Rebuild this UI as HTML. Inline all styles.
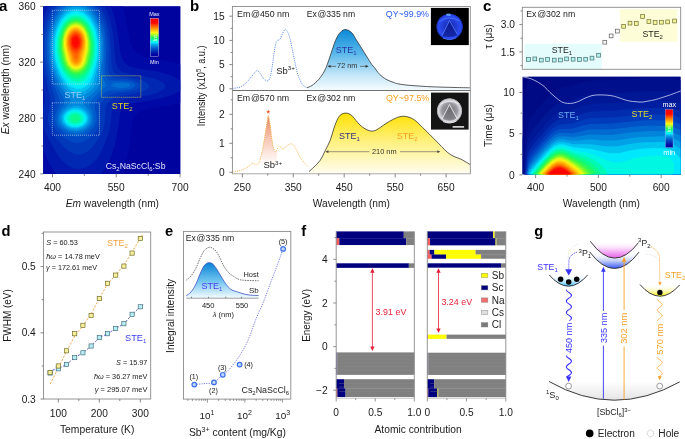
<!DOCTYPE html>
<html><head><meta charset="utf-8"><style>
html,body{margin:0;padding:0;background:#fff;overflow:hidden;}
svg{display:block;font-family:"Liberation Sans", sans-serif;will-change:transform;}
</style></head><body>
<svg width="685" height="439" viewBox="0 0 685 439">
<rect x="0" y="0" width="685" height="439" fill="#fff"/>
<defs>
<filter id="bl1" x="-20%" y="-20%" width="140%" height="140%"><feGaussianBlur stdDeviation="0.7"/></filter>
<clipPath id="clipA"><rect x="43.2" y="6.2" width="137.3" height="167.7"/></clipPath>
<clipPath id="clipC"><rect x="522.3" y="76.6" width="158.4" height="98"/></clipPath>
<linearGradient id="gBlue" x1="0" y1="0" x2="0" y2="1"><stop offset="0" stop-color="#0c8ad8"/><stop offset="0.4" stop-color="#5ab8ea"/><stop offset="0.75" stop-color="#c4e6f8"/><stop offset="1" stop-color="#f4fbff"/></linearGradient>
<linearGradient id="gYel" x1="0" y1="0" x2="0" y2="1"><stop offset="0" stop-color="#ffe000"/><stop offset="0.45" stop-color="#fff07a"/><stop offset="1" stop-color="#fffdf0"/></linearGradient>
<linearGradient id="gSal" x1="0" y1="0" x2="0" y2="1"><stop offset="0" stop-color="#e8845c"/><stop offset="0.4" stop-color="#f5c4b0"/><stop offset="0.7" stop-color="#fcebe4"/><stop offset="0.88" stop-color="#ffffff"/></linearGradient>
<linearGradient id="gBlueE" x1="0" y1="0" x2="0" y2="1"><stop offset="0" stop-color="#0a82d6"/><stop offset="0.5" stop-color="#6cc2ee"/><stop offset="1" stop-color="#f4fbff"/></linearGradient>
<linearGradient id="jet" x1="0" y1="0" x2="0" y2="1"><stop offset="0.000" stop-color="rgb(245,0,0)"/><stop offset="0.125" stop-color="rgb(255,10,0)"/><stop offset="0.180" stop-color="rgb(255,70,0)"/><stop offset="0.250" stop-color="rgb(255,135,0)"/><stop offset="0.300" stop-color="rgb(255,180,10)"/><stop offset="0.375" stop-color="rgb(255,245,20)"/><stop offset="0.400" stop-color="rgb(220,250,20)"/><stop offset="0.440" stop-color="rgb(140,250,35)"/><stop offset="0.500" stop-color="rgb(40,248,80)"/><stop offset="0.560" stop-color="rgb(0,252,160)"/><stop offset="0.625" stop-color="rgb(0,245,255)"/><stop offset="0.690" stop-color="rgb(0,166,232)"/><stop offset="0.750" stop-color="rgb(0,115,212)"/><stop offset="0.810" stop-color="rgb(0,75,196)"/><stop offset="0.875" stop-color="rgb(0,40,178)"/><stop offset="0.940" stop-color="rgb(0,6,166)"/><stop offset="1.000" stop-color="rgb(0,0,148)"/></linearGradient>
<linearGradient id="gMag" x1="0" y1="0" x2="0" y2="1"><stop offset="0" stop-color="#ffffff" stop-opacity="0"/><stop offset="0.5" stop-color="#f8c8f8"/><stop offset="1" stop-color="#e660e6"/></linearGradient>
<linearGradient id="gBlu2" x1="0" y1="0" x2="0" y2="1"><stop offset="0" stop-color="#ffffff" stop-opacity="0"/><stop offset="0.55" stop-color="#c0ccf8"/><stop offset="1" stop-color="#3858f0"/></linearGradient>
<linearGradient id="gCy" x1="0" y1="0" x2="0" y2="1"><stop offset="0" stop-color="#ffffff" stop-opacity="0"/><stop offset="1" stop-color="#38b8f0"/></linearGradient>
<linearGradient id="gYe2" x1="0" y1="0" x2="0" y2="1"><stop offset="0" stop-color="#ffffff" stop-opacity="0"/><stop offset="1" stop-color="#f4ec10"/></linearGradient>
<linearGradient id="gGr" x1="0" y1="0" x2="0" y2="1"><stop offset="0" stop-color="#ffffff"/><stop offset="1" stop-color="#e4e4e4"/></linearGradient>
<radialGradient id="photo1" cx="0.5" cy="0.5" r="0.5"><stop offset="0" stop-color="#1422a0"/><stop offset="0.55" stop-color="#2440d8"/><stop offset="0.85" stop-color="#2c4cf4"/><stop offset="0.95" stop-color="#1a30b0"/><stop offset="1" stop-color="#000010"/></radialGradient>
<radialGradient id="photo2" cx="0.5" cy="0.5" r="0.5"><stop offset="0" stop-color="#707074"/><stop offset="0.6" stop-color="#9a9aa0"/><stop offset="0.85" stop-color="#dcdce2"/><stop offset="0.95" stop-color="#a0a0a4"/><stop offset="1" stop-color="#202020"/></radialGradient>
</defs>
<text x="-0.90" y="10.50" font-size="15" text-anchor="start" fill="#000" font-weight="bold" >a</text>
<g clip-path="url(#clipA)">
<rect x="43.20" y="6.20" width="137.30" height="167.70" fill="rgb(0,0,150)" stroke="none" stroke-width="0.8" />
<path d="M43.2,6.2 43.2,173.9 180.5,173.9 180.5,6.2Z" fill="rgb(0,3,158)" fill-rule="evenodd"/>
<path d="M43.2,6.2 43.2,173.9 121.3,173.9 124.8,165.8 127.6,156.3 129.6,144.8 132.1,123.8 133.3,119.3 135.3,115.6 138.6,112.6 144.8,109.8 152.6,108.1 168.6,105.6 180.5,102.8 180.5,64.8 169.1,61.6 145.3,56.8 139.3,54.3 134.8,50.8 132.6,47.8 130.1,41.8 126.3,20.3 123.1,6.2Z" fill="rgb(0,8,166)" fill-rule="evenodd"/>
<path d="M43.2,6.2 43.2,149.6 49.3,163.8 53.3,170.1 56.6,173.9 100.8,173.9 107.1,165.6 111.8,155.3 115.1,143.6 117.6,131.8 119.8,115.1 121.1,111.1 122.6,108.8 126.3,105.8 132.1,103.6 160.8,98.6 173.6,94.6 178.3,91.8 180.5,89.8 180.5,81.6 175.3,77.6 170.1,75.1 157.6,71.6 133.3,67.6 128.3,65.6 124.1,61.8 122.1,58.3 120.3,52.3 116.3,24.6 113.6,13.8 110.8,6.2Z" fill="rgb(0,24,172)" fill-rule="evenodd"/>
<path d="M48.3,6.2 46.1,10.8 43.2,18.6 43.2,87.6 44.8,97.3 44.6,102.8 43.2,109.1 43.2,126.3 44.8,131.1 48.6,139.1 56.6,153.3 61.6,160.3 66.8,165.1 72.1,167.8 76.3,168.8 82.6,168.6 86.6,167.3 92.3,163.8 97.1,158.8 100.6,153.3 105.3,142.6 109.3,130.8 110.8,123.8 111.8,110.8 114.1,105.6 118.3,102.1 124.8,99.6 148.6,95.3 157.6,92.8 163.6,89.6 165.1,87.6 165.3,85.8 163.1,82.6 156.6,79.3 145.6,76.6 125.1,73.1 121.6,71.6 118.8,69.3 116.8,65.8 115.3,59.3 113.8,40.1 112.1,28.3 109.3,17.6 104.8,6.2Z" fill="rgb(0,40,178)" fill-rule="evenodd"/>
<path d="M52.6,6.2 47.3,17.1 45.1,24.1 43.2,32.1 43.2,66.3 50.3,98.6 50.1,104.8 47.8,116.6 48.1,121.8 49.6,127.3 51.3,131.1 54.8,136.6 60.1,143.1 66.1,149.1 70.6,152.3 75.3,154.3 80.6,154.6 84.1,153.6 88.6,150.8 94.1,145.1 99.6,136.8 102.6,130.6 104.6,123.8 105.3,108.8 106.1,105.8 107.8,102.8 113.1,98.6 118.8,96.3 137.1,93.1 144.3,90.8 148.6,88.1 149.1,87.3 149.1,85.3 145.8,82.3 140.1,79.8 132.8,78.1 122.8,76.8 117.6,75.6 115.8,74.6 113.3,71.8 111.6,65.1 110.8,43.6 109.1,30.3 105.3,16.8 100.3,6.2Z" fill="rgb(0,56,186)" fill-rule="evenodd"/>
<path d="M56.3,6.2 51.3,14.6 47.8,23.8 45.6,33.6 44.6,42.1 44.6,55.1 46.3,68.1 48.8,78.6 53.6,93.1 55.1,99.3 55.1,104.3 52.1,115.6 52.1,120.8 53.3,125.3 56.1,130.1 62.8,136.8 68.1,140.3 71.3,141.8 75.1,142.8 80.3,142.8 83.8,141.8 89.3,138.6 94.3,133.6 97.3,129.1 98.8,125.8 100.1,120.8 100.1,105.3 102.1,101.3 104.8,98.3 109.1,95.3 113.3,93.6 128.1,91.8 136.1,89.8 140.1,87.1 140.3,84.8 138.1,82.6 133.3,80.6 126.8,79.3 115.1,78.3 111.8,77.1 110.1,75.3 108.8,72.3 108.3,69.3 108.6,50.8 108.1,41.6 106.8,32.3 105.1,24.8 102.1,16.3 99.1,10.3 96.3,6.2Z" fill="rgb(0,72,194)" fill-rule="evenodd"/>
<path d="M59.8,6.2 55.6,11.8 50.8,21.8 48.3,30.6 46.6,43.1 46.8,56.6 48.8,68.8 53.3,83.8 58.3,95.6 59.8,101.1 59.6,104.3 55.3,114.8 55.1,120.8 55.8,123.6 58.1,127.6 63.6,132.6 67.8,134.8 74.8,136.6 80.1,136.3 84.3,135.1 88.8,132.6 92.3,129.3 94.3,126.6 95.8,123.3 96.6,119.8 96.3,114.3 94.8,108.6 94.8,104.3 96.8,100.3 101.6,95.3 106.3,91.8 109.8,90.6 122.1,90.3 130.6,89.1 133.8,87.6 135.1,86.3 135.1,84.8 133.8,83.3 129.6,81.6 125.1,80.8 111.3,80.6 109.1,79.8 107.1,78.1 105.8,75.3 105.3,71.3 106.3,48.6 104.8,33.6 103.1,26.1 100.3,18.3 97.8,13.3 92.8,6.2Z" fill="rgb(0,91,202)" fill-rule="evenodd"/>
<path d="M110.8,85.1 111.3,86.1 112.8,86.8 120.6,88.3 127.6,87.6 130.3,85.8 130.3,84.8 129.3,83.8 125.1,82.6 116.8,82.8 112.3,84.1ZM63.3,6.2 59.1,10.8 55.8,15.8 53.1,21.6 50.8,28.3 49.3,35.1 48.3,44.6 48.8,57.8 50.3,66.3 54.1,78.8 57.1,86.1 63.8,98.6 64.6,101.3 64.1,104.1 59.8,110.3 57.6,115.3 57.3,120.6 58.1,123.1 59.6,125.8 61.8,128.3 66.8,131.6 72.8,133.3 79.1,133.3 83.6,132.1 88.3,129.3 92.1,125.1 93.6,121.6 93.8,116.3 92.8,112.6 89.8,105.8 89.6,104.1 90.1,102.1 92.6,98.6 106.8,85.3 103.6,80.1 102.6,74.8 104.3,54.6 103.8,39.8 101.6,28.1 98.3,19.1 94.3,12.1 89.3,6.2Z" fill="rgb(0,111,210)" fill-rule="evenodd"/>
<path d="M85.1,6.2 67.6,6.2 64.6,8.3 61.1,11.8 56.8,18.1 54.1,24.1 51.6,32.6 50.1,43.3 50.1,52.8 50.8,59.6 52.6,67.8 55.1,75.6 61.1,88.1 69.1,98.3 70.6,101.1 69.8,103.3 62.8,109.8 60.8,112.6 59.6,115.3 59.1,118.1 59.6,121.8 61.3,125.1 65.6,128.8 69.3,130.6 75.1,131.6 81.1,130.8 85.6,128.8 89.1,125.8 90.8,123.1 91.8,119.1 91.1,114.3 88.6,109.8 83.8,104.1 83.6,101.6 86.6,98.3 92.3,93.8 97.1,89.1 99.1,86.1 99.8,83.8 100.1,73.1 102.3,57.6 102.3,41.8 100.8,32.3 99.1,26.1 95.3,17.6 92.6,13.3 87.6,8.1Z" fill="rgb(0,136,220)" fill-rule="evenodd"/>
<path d="M74.3,105.6 67.8,108.1 63.1,112.3 61.1,116.3 60.8,119.6 62.6,124.1 66.8,127.8 71.3,129.6 78.3,129.8 84.1,127.8 87.8,124.6 89.6,121.3 89.8,116.8 88.1,112.6 83.6,108.1 78.8,105.8ZM73.8,6.6 70.3,7.6 65.1,10.8 60.3,16.1 56.8,22.1 54.1,29.3 52.3,37.1 51.6,44.3 51.6,51.6 52.8,61.6 54.3,67.6 57.8,77.1 61.3,83.8 65.3,89.3 69.8,93.6 75.3,96.3 79.3,96.6 83.6,95.3 89.1,92.1 93.3,88.1 95.3,85.1 96.6,81.3 100.3,60.1 100.8,55.3 100.8,43.1 99.8,35.6 98.3,29.3 95.6,22.1 92.1,16.1 87.3,10.8 84.6,8.8 79.8,6.8Z" fill="rgb(0,161,230)" fill-rule="evenodd"/>
<path d="M67.8,110.1 64.3,113.3 62.6,117.1 63.1,121.8 66.3,125.8 71.1,128.1 77.1,128.6 82.8,126.8 86.6,123.6 88.1,120.3 88.1,116.8 86.3,113.1 83.8,110.6 80.8,108.8 77.1,107.8 72.8,108.1ZM73.8,9.1 68.1,11.3 64.8,13.8 60.8,18.6 57.3,25.1 55.1,31.6 53.6,38.8 53.1,51.6 54.1,59.8 55.6,66.1 58.3,73.6 63.6,83.1 68.8,88.8 71.3,90.6 76.1,92.3 80.3,92.3 84.3,91.1 88.6,88.3 91.3,85.3 93.6,81.1 97.3,67.1 98.8,59.1 99.3,43.3 98.6,37.3 96.6,29.1 94.8,24.6 90.8,17.6 84.3,11.3 78.6,9.1Z" fill="rgb(0,196,240)" fill-rule="evenodd"/>
<path d="M67.3,112.3 64.8,115.3 64.1,117.6 64.1,119.8 65.6,123.1 68.1,125.3 72.3,127.1 78.3,127.1 82.6,125.3 85.6,122.3 86.6,119.3 86.3,116.6 85.1,114.1 82.1,111.3 78.6,109.8 73.6,109.6 70.8,110.3ZM74.6,11.3 70.8,12.3 66.1,15.3 62.1,19.8 58.6,26.1 56.3,32.6 55.1,38.6 54.6,52.3 55.8,60.8 57.8,67.8 61.3,75.6 64.3,80.3 68.3,84.8 71.3,87.1 75.8,88.8 80.3,88.8 82.8,88.1 86.3,86.1 89.6,82.6 92.3,77.1 95.3,67.8 97.3,58.6 97.8,54.3 97.8,42.8 95.6,31.1 93.8,26.3 90.1,19.6 85.3,14.6 82.6,12.8 77.8,11.3Z" fill="rgb(0,232,251)" fill-rule="evenodd"/>
<path d="M67.1,114.8 65.8,117.6 66.3,121.3 68.8,124.1 72.1,125.6 77.6,125.8 80.1,125.1 81.8,124.1 84.6,120.6 84.8,117.8 83.6,114.8 81.1,112.6 78.1,111.3 72.6,111.3 69.6,112.6ZM74.3,13.6 70.8,14.6 66.3,17.6 62.3,22.3 59.3,28.1 57.6,33.3 56.3,39.6 55.8,44.8 56.1,53.3 57.3,60.8 59.3,67.3 62.6,74.1 65.1,77.8 69.3,82.3 72.3,84.3 76.1,85.6 79.8,85.6 84.1,83.8 87.3,80.8 91.8,72.6 95.6,59.8 96.6,51.3 96.6,45.3 95.8,38.3 94.6,32.8 92.8,27.8 89.6,21.8 85.3,17.1 82.8,15.3 78.1,13.6Z" fill="rgb(0,247,225)" fill-rule="evenodd"/>
<path d="M70.3,114.1 67.8,117.3 67.8,120.1 68.8,121.8 70.6,123.3 73.3,124.3 77.3,124.3 80.3,123.1 82.1,121.3 82.8,119.6 82.8,117.6 80.3,114.1 78.3,113.1 75.6,112.6 72.3,113.1ZM74.6,15.6 71.1,16.6 67.8,18.6 63.8,22.8 61.1,27.6 59.3,32.1 57.8,38.3 57.3,42.3 57.3,51.8 59.3,62.6 61.6,68.6 66.1,75.8 71.3,80.6 75.6,82.3 79.3,82.3 83.1,80.8 86.3,77.8 90.8,70.1 93.3,62.8 94.6,56.8 95.1,43.6 93.3,33.6 91.3,28.1 88.8,23.6 84.3,18.6 82.1,17.1 78.8,15.8Z" fill="rgb(0,250,181)" fill-rule="evenodd"/>
<path d="M70.8,116.8 70.3,118.1 70.8,120.3 73.8,122.3 77.6,122.1 79.8,120.3 80.3,119.1 79.8,116.8 76.8,114.8 73.8,114.8ZM73.8,17.6 70.1,19.1 67.3,21.1 64.3,24.6 61.8,29.1 59.8,34.8 58.8,40.1 58.6,50.8 61.1,63.3 64.8,71.1 66.3,73.1 71.3,77.6 73.8,78.8 78.3,79.3 83.1,77.3 86.8,73.3 89.8,68.1 92.8,58.3 93.8,50.1 93.8,45.1 93.1,38.6 91.8,33.3 90.3,29.3 87.3,24.1 83.8,20.3 81.1,18.6 78.1,17.6Z" fill="rgb(10,251,139)" fill-rule="evenodd"/>
<path d="M75.6,19.1 72.1,19.8 69.3,21.3 66.6,23.8 64.1,27.3 62.1,31.6 60.3,38.1 59.8,41.6 59.8,50.3 62.3,62.6 65.6,69.3 70.3,74.3 74.6,76.3 77.3,76.6 79.8,76.1 83.6,73.8 86.1,71.1 88.8,66.3 90.3,62.3 92.1,54.1 92.3,42.3 90.1,32.1 86.3,25.1 81.8,20.8 79.1,19.6Z" fill="rgb(29,249,100)" fill-rule="evenodd"/>
<path d="M74.1,20.8 69.6,22.8 67.6,24.6 64.8,28.3 61.8,36.1 60.8,43.1 60.8,47.3 62.6,58.6 64.6,64.6 66.3,67.8 68.1,70.1 71.1,72.6 74.8,74.1 78.3,74.1 81.8,72.6 85.1,69.6 88.3,63.6 90.8,52.8 91.1,42.1 89.1,32.8 85.1,25.6 82.8,23.3 80.1,21.6 77.8,20.8Z" fill="rgb(65,248,68)" fill-rule="evenodd"/>
<path d="M75.1,22.1 71.6,23.1 69.3,24.6 66.6,27.6 64.3,31.6 62.1,40.3 62.1,48.8 64.1,59.1 66.8,66.1 71.3,70.8 74.3,72.1 77.1,72.3 79.3,71.8 82.1,70.3 84.3,68.1 86.3,64.8 87.6,61.6 89.3,53.8 90.1,44.6 88.8,35.6 85.8,28.6 84.6,26.8 80.6,23.3 78.1,22.3Z" fill="rgb(115,249,46)" fill-rule="evenodd"/>
<path d="M73.8,23.6 71.3,24.6 68.1,27.3 64.8,32.8 63.1,39.8 63.1,48.1 65.6,59.8 67.8,65.3 71.6,69.3 74.6,70.6 77.8,70.6 81.6,68.8 83.6,66.8 85.8,62.6 88.6,50.3 88.8,41.3 86.8,32.8 83.3,27.1 81.1,25.1 78.6,23.8Z" fill="rgb(170,250,29)" fill-rule="evenodd"/>
<path d="M75.3,24.6 71.1,26.1 67.1,30.3 64.3,37.6 63.8,45.8 66.6,59.1 68.8,64.8 72.3,68.3 74.1,69.1 77.1,69.3 81.1,67.6 83.6,64.6 84.8,61.8 87.6,49.1 87.8,41.1 86.1,33.6 83.6,29.1 80.1,25.8Z" fill="rgb(227,248,20)" fill-rule="evenodd"/>
<path d="M74.6,25.8 71.1,27.3 67.8,30.8 66.3,33.8 64.8,39.6 64.8,46.8 68.1,60.3 69.8,64.3 72.6,67.1 76.8,68.1 80.1,66.8 81.8,65.1 83.6,61.8 86.6,48.6 86.8,40.3 85.3,34.1 82.6,29.3 78.6,26.3Z" fill="rgb(255,236,18)" fill-rule="evenodd"/>
<path d="M74.1,27.1 71.1,28.6 69.3,30.3 67.3,33.6 65.8,38.3 65.6,45.6 69.1,59.8 70.8,63.8 72.8,65.8 74.3,66.6 76.8,66.8 80.1,65.3 82.3,61.8 85.6,48.6 86.1,41.6 84.6,34.6 82.3,30.6 80.3,28.6 78.1,27.3Z" fill="rgb(255,210,14)" fill-rule="evenodd"/>
<path d="M74.8,28.1 71.8,29.3 68.8,32.6 66.8,37.6 66.3,44.8 67.3,49.8 71.1,62.1 73.8,65.1 76.8,65.6 78.3,65.1 80.1,63.6 81.6,60.6 84.8,47.3 85.1,39.8 83.8,35.1 81.6,31.1 78.3,28.6Z" fill="rgb(255,184,10)" fill-rule="evenodd"/>
<path d="M74.3,29.3 72.1,30.3 69.1,33.8 67.6,37.8 67.1,43.8 68.1,49.1 70.8,56.3 71.8,60.8 72.8,62.6 74.3,63.8 77.1,64.1 79.6,62.1 80.6,59.6 81.6,54.1 84.1,46.3 84.3,40.6 83.3,36.1 81.3,32.3 77.8,29.6Z" fill="rgb(255,157,4)" fill-rule="evenodd"/>
<path d="M75.1,30.3 71.8,31.8 69.8,34.3 68.3,38.1 67.8,42.3 68.8,48.3 71.3,53.8 73.1,60.1 74.6,62.1 76.1,62.6 77.8,61.8 78.8,60.3 80.1,54.6 82.6,48.6 83.6,41.8 83.1,38.1 81.1,33.6 78.1,30.8Z" fill="rgb(255,130,0)" fill-rule="evenodd"/>
<path d="M74.8,31.6 72.3,32.8 69.8,36.3 68.8,40.1 68.8,44.3 70.1,48.8 75.1,58.8 76.3,59.3 77.1,58.6 78.6,54.1 82.1,46.8 82.6,40.1 81.8,37.1 80.1,33.8 77.3,31.8Z" fill="rgb(255,102,0)" fill-rule="evenodd"/>
<path d="M75.6,32.8 73.3,33.6 70.6,37.1 69.8,39.6 69.8,44.6 70.8,47.8 72.8,51.1 74.3,52.6 76.3,53.1 77.8,52.1 80.6,47.8 81.6,44.3 81.6,39.8 79.8,35.3 78.1,33.6Z" fill="rgb(255,74,0)" fill-rule="evenodd"/>
<path d="M74.6,34.6 72.3,36.3 71.1,38.8 70.8,44.1 72.6,48.3 74.1,49.8 76.3,50.3 78.6,48.6 80.1,45.8 80.6,40.3 80.1,38.3 78.1,35.3 76.8,34.6Z" fill="rgb(255,42,0)" fill-rule="evenodd"/>
<path d="M74.8,36.6 73.1,38.1 72.3,39.6 72.1,43.3 73.1,46.1 74.6,47.6 75.8,47.8 77.1,47.3 78.6,45.6 79.3,43.1 79.3,40.8 78.3,38.1 77.1,36.8Z" fill="rgb(255,9,0)" fill-rule="evenodd"/>
<path d="M75.3,40.8 74.6,42.3 75.1,43.6 75.8,43.8 76.8,42.1 76.1,40.8Z" fill="rgb(252,7,0)" fill-rule="evenodd"/>
</g>
<rect x="52.30" y="10.30" width="47.10" height="73.70" fill="none" stroke="#d8dcf0" stroke-width="0.7" stroke-dasharray="0.9 1.1"/>
<rect x="52.30" y="102.80" width="47.10" height="32.40" fill="none" stroke="#d8dcf0" stroke-width="0.7" stroke-dasharray="0.9 1.1"/>
<rect x="101.50" y="75.80" width="39.30" height="21.50" fill="none" stroke="#e8dc30" stroke-width="0.8" stroke-dasharray="0.9 1.1"/>
<text x="64.50" y="97.80" font-size="9" text-anchor="start" fill="#9cc8f8" >STE<tspan font-size="6" dy="2">1</tspan></text>
<text x="111.80" y="108.70" font-size="9" text-anchor="start" fill="#e0d428" >STE<tspan font-size="6" dy="2">2</tspan></text>
<rect x="150.20" y="18.30" width="8.40" height="38.30" fill="url(#jet)" stroke="#e0e0ff" stroke-width="0.4" />
<text x="0" y="0" font-size="5.5" text-anchor="middle" fill="#e8ffe8" transform="translate(156.60,37.50) rotate(-90)">Int.</text>
<text x="154.40" y="15.70" font-size="5.5" text-anchor="middle" fill="#f0f0ff" >Max</text>
<text x="154.40" y="63.60" font-size="5.5" text-anchor="middle" fill="#f0f0ff" >Min</text>
<text x="105.70" y="169.00" font-size="8.8" text-anchor="start" fill="#e4e4ff" textLength="59.8" lengthAdjust="spacingAndGlyphs" >Cs<tspan font-size="6" dy="1.8">2</tspan><tspan dy="-1.8">NaScCl</tspan><tspan font-size="6" dy="1.8">6</tspan><tspan dy="-1.8">:Sb</tspan></text>
<line x1="40.20" y1="6.40" x2="43.20" y2="6.40" stroke="#6a6a6a" stroke-width="0.8" />
<line x1="41.40" y1="34.40" x2="43.20" y2="34.40" stroke="#6a6a6a" stroke-width="0.8" />
<line x1="40.20" y1="62.10" x2="43.20" y2="62.10" stroke="#6a6a6a" stroke-width="0.8" />
<line x1="41.40" y1="90.00" x2="43.20" y2="90.00" stroke="#6a6a6a" stroke-width="0.8" />
<line x1="40.20" y1="118.00" x2="43.20" y2="118.00" stroke="#6a6a6a" stroke-width="0.8" />
<line x1="41.40" y1="146.00" x2="43.20" y2="146.00" stroke="#6a6a6a" stroke-width="0.8" />
<line x1="40.20" y1="173.90" x2="43.20" y2="173.90" stroke="#6a6a6a" stroke-width="0.8" />
<text x="35.60" y="10.05" font-size="10.2" text-anchor="end" fill="#1a1a1a" >360</text>
<text x="35.60" y="65.75" font-size="10.2" text-anchor="end" fill="#1a1a1a" >320</text>
<text x="35.60" y="121.65" font-size="10.2" text-anchor="end" fill="#1a1a1a" >280</text>
<text x="35.60" y="177.55" font-size="10.2" text-anchor="end" fill="#1a1a1a" >240</text>
<line x1="52.50" y1="173.90" x2="52.50" y2="177.40" stroke="#6a6a6a" stroke-width="0.8" />
<line x1="84.30" y1="173.90" x2="84.30" y2="175.90" stroke="#6a6a6a" stroke-width="0.8" />
<line x1="116.20" y1="173.90" x2="116.20" y2="177.40" stroke="#6a6a6a" stroke-width="0.8" />
<line x1="148.20" y1="173.90" x2="148.20" y2="175.90" stroke="#6a6a6a" stroke-width="0.8" />
<line x1="180.10" y1="173.90" x2="180.10" y2="177.40" stroke="#6a6a6a" stroke-width="0.8" />
<text x="52.50" y="190.80" font-size="10.2" text-anchor="middle" fill="#1a1a1a" >400</text>
<text x="116.20" y="190.80" font-size="10.2" text-anchor="middle" fill="#1a1a1a" >550</text>
<text x="180.10" y="190.80" font-size="10.2" text-anchor="middle" fill="#1a1a1a" >700</text>
<text x="112.40" y="206.70" font-size="10.2" text-anchor="middle" fill="#1a1a1a" textLength="93.2" lengthAdjust="spacingAndGlyphs" ><tspan font-style="italic">Em</tspan> wavelength (nm)</text>
<text x="0" y="0" font-size="10.2" text-anchor="middle" fill="#1a1a1a" textLength="89.5" lengthAdjust="spacingAndGlyphs" transform="translate(8.50,89.50) rotate(-90)"><tspan font-style="italic">Ex</tspan> wavelength (nm)</text>
<text x="190.10" y="10.60" font-size="15" text-anchor="start" fill="#000" font-weight="bold" >b</text>
<path d="M232.50,88.40 C233.08,88.33 234.58,88.27 236.00,88.00 C237.42,87.73 239.33,87.63 241.00,86.80 C242.67,85.97 244.50,84.37 246.00,83.00 C247.50,81.63 248.67,80.18 250.00,78.60 C251.33,77.02 252.83,74.83 254.00,73.50 C255.17,72.17 256.08,70.77 257.00,70.60 C257.92,70.43 258.67,71.52 259.50,72.50 C260.33,73.48 261.08,75.28 262.00,76.50 C262.92,77.72 264.00,79.07 265.00,79.80 C266.00,80.53 267.08,81.53 268.00,80.90 C268.92,80.27 269.73,78.82 270.50,76.00 C271.27,73.18 271.98,68.00 272.60,64.00 C273.22,60.00 273.60,55.62 274.20,52.00 C274.80,48.38 275.57,44.27 276.20,42.30 C276.83,40.33 277.37,40.70 278.00,40.20 C278.63,39.70 279.25,40.42 280.00,39.30 C280.75,38.18 281.63,35.18 282.50,33.50 C283.37,31.82 284.32,29.37 285.20,29.20 C286.08,29.03 287.00,30.92 287.80,32.50 C288.60,34.08 289.07,35.00 290.00,38.70 C290.93,42.40 292.40,49.98 293.40,54.70 C294.40,59.42 295.23,63.58 296.00,67.00 C296.77,70.42 297.25,72.87 298.00,75.20 C298.75,77.53 299.75,79.42 300.50,81.00 C301.25,82.58 301.75,83.73 302.50,84.70 C303.25,85.67 304.25,86.30 305.00,86.80 C305.75,87.30 306.67,87.55 307.00,87.70" fill="none" stroke="#5080f0" stroke-width="0.9" stroke-dasharray="1.1 1.1"/>
<path d="M307.00,87.70 C307.83,87.33 310.08,86.83 312.00,85.50 C313.92,84.17 316.67,81.70 318.50,79.70 C320.33,77.70 321.80,75.37 323.00,73.50 C324.20,71.63 324.78,70.58 325.70,68.50 C326.62,66.42 327.62,63.50 328.50,61.00 C329.38,58.50 330.17,56.00 331.00,53.50 C331.83,51.00 332.75,48.17 333.50,46.00 C334.25,43.83 334.75,42.25 335.50,40.50 C336.25,38.75 337.17,36.88 338.00,35.50 C338.83,34.12 339.67,33.08 340.50,32.20 C341.33,31.32 342.25,30.63 343.00,30.20 C343.75,29.77 344.25,29.63 345.00,29.60 C345.75,29.57 346.67,29.72 347.50,30.00 C348.33,30.28 349.12,30.63 350.00,31.30 C350.88,31.97 351.73,32.55 352.80,34.00 C353.87,35.45 355.12,37.92 356.40,40.00 C357.68,42.08 359.20,44.43 360.50,46.50 C361.80,48.57 362.95,50.40 364.20,52.40 C365.45,54.40 366.78,56.53 368.00,58.50 C369.22,60.47 370.40,62.67 371.50,64.20 C372.60,65.73 373.52,66.32 374.60,67.70 C375.68,69.08 376.77,71.03 378.00,72.50 C379.23,73.97 380.50,75.28 382.00,76.50 C383.50,77.72 385.17,78.85 387.00,79.80 C388.83,80.75 391.10,81.52 393.00,82.20 C394.90,82.88 395.57,83.37 398.40,83.90 C401.23,84.43 406.20,85.02 410.00,85.40 C413.80,85.78 417.53,85.97 421.20,86.20 C424.87,86.43 428.20,86.63 432.00,86.80 C435.80,86.97 440.00,87.08 444.00,87.20 C448.00,87.32 451.70,87.40 456.00,87.50 C460.30,87.60 467.50,87.75 469.80,87.80 L469.8,90 L307,90 Z" fill="url(#gBlue)" stroke="none"/>
<path d="M307.00,87.70 C307.83,87.33 310.08,86.83 312.00,85.50 C313.92,84.17 316.67,81.70 318.50,79.70 C320.33,77.70 321.80,75.37 323.00,73.50 C324.20,71.63 324.78,70.58 325.70,68.50 C326.62,66.42 327.62,63.50 328.50,61.00 C329.38,58.50 330.17,56.00 331.00,53.50 C331.83,51.00 332.75,48.17 333.50,46.00 C334.25,43.83 334.75,42.25 335.50,40.50 C336.25,38.75 337.17,36.88 338.00,35.50 C338.83,34.12 339.67,33.08 340.50,32.20 C341.33,31.32 342.25,30.63 343.00,30.20 C343.75,29.77 344.25,29.63 345.00,29.60 C345.75,29.57 346.67,29.72 347.50,30.00 C348.33,30.28 349.12,30.63 350.00,31.30 C350.88,31.97 351.73,32.55 352.80,34.00 C353.87,35.45 355.12,37.92 356.40,40.00 C357.68,42.08 359.20,44.43 360.50,46.50 C361.80,48.57 362.95,50.40 364.20,52.40 C365.45,54.40 366.78,56.53 368.00,58.50 C369.22,60.47 370.40,62.67 371.50,64.20 C372.60,65.73 373.52,66.32 374.60,67.70 C375.68,69.08 376.77,71.03 378.00,72.50 C379.23,73.97 380.50,75.28 382.00,76.50 C383.50,77.72 385.17,78.85 387.00,79.80 C388.83,80.75 391.10,81.52 393.00,82.20 C394.90,82.88 395.57,83.37 398.40,83.90 C401.23,84.43 406.20,85.02 410.00,85.40 C413.80,85.78 417.53,85.97 421.20,86.20 C424.87,86.43 428.20,86.63 432.00,86.80 C435.80,86.97 440.00,87.08 444.00,87.20 C448.00,87.32 451.70,87.40 456.00,87.50 C460.30,87.60 467.50,87.75 469.80,87.80" fill="none" stroke="#2a2a2a" stroke-width="0.75"/>
<path d="M260.5,172 L260.5,158 L262.2,151.2 L264.2,140 L266.2,127 L268.3,115.2 L270.2,125 L271.8,138 L273.2,147 L274.8,151.5 L276.8,150 L276.8,172 Z" fill="url(#gSal)"/>
<path d="M232.60,172.00 C233.33,171.88 235.33,171.68 237.00,171.30 C238.67,170.92 240.93,170.33 242.60,169.70 C244.27,169.07 245.75,168.25 247.00,167.50 C248.25,166.75 249.17,165.92 250.10,165.20 C251.03,164.48 251.87,163.40 252.60,163.20 C253.33,163.00 253.82,163.77 254.50,164.00 C255.18,164.23 255.95,164.85 256.70,164.60 C257.45,164.35 258.37,163.60 259.00,162.50 C259.63,161.40 259.97,159.88 260.50,158.00 C261.03,156.12 261.58,154.20 262.20,151.20 C262.82,148.20 263.53,144.03 264.20,140.00 C264.87,135.97 265.52,131.13 266.20,127.00 C266.88,122.87 267.63,115.53 268.30,115.20 C268.97,114.87 269.62,121.20 270.20,125.00 C270.78,128.80 271.30,134.33 271.80,138.00 C272.30,141.67 272.70,144.75 273.20,147.00 C273.70,149.25 274.20,151.00 274.80,151.50 C275.40,152.00 276.12,150.85 276.80,150.00 C277.48,149.15 278.20,146.85 278.90,146.40 C279.60,145.95 280.28,146.80 281.00,147.30 C281.72,147.80 282.53,149.37 283.20,149.40 C283.87,149.43 284.45,148.00 285.00,147.50 C285.55,147.00 285.83,146.90 286.50,146.40 C287.17,145.90 288.17,144.92 289.00,144.50 C289.83,144.08 290.75,143.82 291.50,143.90 C292.25,143.98 292.88,144.38 293.50,145.00 C294.12,145.62 294.48,146.35 295.20,147.60 C295.92,148.85 296.95,150.82 297.80,152.50 C298.65,154.18 299.27,156.03 300.30,157.70 C301.33,159.37 302.75,161.05 304.00,162.50 C305.25,163.95 307.17,165.75 307.80,166.40" fill="none" stroke="#f5b040" stroke-width="0.9" stroke-dasharray="1.1 1.1"/>
<path d="M268.3,109.6 L268.9,111.2 L270.4,111.2 L269.2,112.2 L269.6,113.7 L268.3,112.8 L267,113.7 L267.4,112.2 L266.2,111.2 L267.7,111.2 Z" fill="#f05a28"/>
<path d="M309.00,171.50 C309.83,170.75 312.12,168.88 314.00,167.00 C315.88,165.12 318.47,162.87 320.30,160.20 C322.13,157.53 323.33,154.35 325.00,151.00 C326.67,147.65 328.80,143.93 330.30,140.10 C331.80,136.27 332.75,131.58 334.00,128.00 C335.25,124.42 336.63,120.85 337.80,118.60 C338.97,116.35 339.77,115.42 341.00,114.50 C342.23,113.58 343.87,113.22 345.20,113.10 C346.53,112.98 347.77,113.27 349.00,113.80 C350.23,114.33 351.43,115.18 352.60,116.30 C353.77,117.42 354.75,119.03 356.00,120.50 C357.25,121.97 358.60,123.72 360.10,125.10 C361.60,126.48 363.52,127.88 365.00,128.80 C366.48,129.72 367.78,130.22 369.00,130.60 C370.22,130.98 371.13,131.17 372.30,131.10 C373.47,131.03 374.70,130.78 376.00,130.20 C377.30,129.62 378.43,128.72 380.10,127.60 C381.77,126.48 383.90,124.83 386.00,123.50 C388.10,122.17 390.78,120.62 392.70,119.60 C394.62,118.58 395.83,117.95 397.50,117.40 C399.17,116.85 401.03,116.40 402.70,116.30 C404.37,116.20 405.83,116.38 407.50,116.80 C409.17,117.22 411.03,117.85 412.70,118.80 C414.37,119.75 415.83,121.03 417.50,122.50 C419.17,123.97 420.78,125.72 422.70,127.60 C424.62,129.48 426.90,131.72 429.00,133.80 C431.10,135.88 433.22,138.00 435.30,140.10 C437.38,142.20 439.42,144.30 441.50,146.40 C443.58,148.50 445.72,151.02 447.80,152.70 C449.88,154.38 451.92,155.47 454.00,156.50 C456.08,157.53 458.47,158.07 460.30,158.90 C462.13,159.73 463.38,160.57 465.00,161.50 C466.62,162.43 469.17,164.00 470.00,164.50 L470,173.5 L309,173.5 Z" fill="url(#gYel)" stroke="none"/>
<path d="M309.00,171.50 C309.83,170.75 312.12,168.88 314.00,167.00 C315.88,165.12 318.47,162.87 320.30,160.20 C322.13,157.53 323.33,154.35 325.00,151.00 C326.67,147.65 328.80,143.93 330.30,140.10 C331.80,136.27 332.75,131.58 334.00,128.00 C335.25,124.42 336.63,120.85 337.80,118.60 C338.97,116.35 339.77,115.42 341.00,114.50 C342.23,113.58 343.87,113.22 345.20,113.10 C346.53,112.98 347.77,113.27 349.00,113.80 C350.23,114.33 351.43,115.18 352.60,116.30 C353.77,117.42 354.75,119.03 356.00,120.50 C357.25,121.97 358.60,123.72 360.10,125.10 C361.60,126.48 363.52,127.88 365.00,128.80 C366.48,129.72 367.78,130.22 369.00,130.60 C370.22,130.98 371.13,131.17 372.30,131.10 C373.47,131.03 374.70,130.78 376.00,130.20 C377.30,129.62 378.43,128.72 380.10,127.60 C381.77,126.48 383.90,124.83 386.00,123.50 C388.10,122.17 390.78,120.62 392.70,119.60 C394.62,118.58 395.83,117.95 397.50,117.40 C399.17,116.85 401.03,116.40 402.70,116.30 C404.37,116.20 405.83,116.38 407.50,116.80 C409.17,117.22 411.03,117.85 412.70,118.80 C414.37,119.75 415.83,121.03 417.50,122.50 C419.17,123.97 420.78,125.72 422.70,127.60 C424.62,129.48 426.90,131.72 429.00,133.80 C431.10,135.88 433.22,138.00 435.30,140.10 C437.38,142.20 439.42,144.30 441.50,146.40 C443.58,148.50 445.72,151.02 447.80,152.70 C449.88,154.38 451.92,155.47 454.00,156.50 C456.08,157.53 458.47,158.07 460.30,158.90 C462.13,159.73 463.38,160.57 465.00,161.50 C466.62,162.43 469.17,164.00 470.00,164.50" fill="none" stroke="#2a2a2a" stroke-width="0.75"/>
<rect x="232.40" y="6.50" width="237.90" height="167.20" fill="none" stroke="#8a8a8a" stroke-width="0.9" />
<line x1="232.40" y1="90.50" x2="470.30" y2="90.50" stroke="#707070" stroke-width="1.0" />
<line x1="232.40" y1="173.70" x2="470.30" y2="173.70" stroke="#c8c8c8" stroke-width="1.0" />
<line x1="229.40" y1="88.80" x2="232.40" y2="88.80" stroke="#6a6a6a" stroke-width="0.8" />
<line x1="230.60" y1="76.70" x2="232.40" y2="76.70" stroke="#6a6a6a" stroke-width="0.8" />
<line x1="229.40" y1="64.60" x2="232.40" y2="64.60" stroke="#6a6a6a" stroke-width="0.8" />
<line x1="230.60" y1="52.50" x2="232.40" y2="52.50" stroke="#6a6a6a" stroke-width="0.8" />
<line x1="229.40" y1="40.40" x2="232.40" y2="40.40" stroke="#6a6a6a" stroke-width="0.8" />
<line x1="230.60" y1="28.30" x2="232.40" y2="28.30" stroke="#6a6a6a" stroke-width="0.8" />
<line x1="229.40" y1="16.20" x2="232.40" y2="16.20" stroke="#6a6a6a" stroke-width="0.8" />
<text x="224.60" y="92.45" font-size="10.2" text-anchor="end" fill="#1a1a1a" >0</text>
<text x="224.60" y="68.25" font-size="10.2" text-anchor="end" fill="#1a1a1a" >5</text>
<text x="224.60" y="44.05" font-size="10.2" text-anchor="end" fill="#1a1a1a" >10</text>
<text x="224.60" y="19.85" font-size="10.2" text-anchor="end" fill="#1a1a1a" >15</text>
<line x1="229.40" y1="172.30" x2="232.40" y2="172.30" stroke="#6a6a6a" stroke-width="0.8" />
<line x1="230.60" y1="157.80" x2="232.40" y2="157.80" stroke="#6a6a6a" stroke-width="0.8" />
<line x1="229.40" y1="143.30" x2="232.40" y2="143.30" stroke="#6a6a6a" stroke-width="0.8" />
<line x1="230.60" y1="128.80" x2="232.40" y2="128.80" stroke="#6a6a6a" stroke-width="0.8" />
<line x1="229.40" y1="114.30" x2="232.40" y2="114.30" stroke="#6a6a6a" stroke-width="0.8" />
<line x1="230.60" y1="99.80" x2="232.40" y2="99.80" stroke="#6a6a6a" stroke-width="0.8" />
<text x="224.60" y="175.95" font-size="10.2" text-anchor="end" fill="#1a1a1a" >0</text>
<text x="224.60" y="146.95" font-size="10.2" text-anchor="end" fill="#1a1a1a" >1</text>
<text x="224.60" y="117.95" font-size="10.2" text-anchor="end" fill="#1a1a1a" >2</text>
<line x1="242.30" y1="173.70" x2="242.30" y2="177.50" stroke="#6a6a6a" stroke-width="0.8" />
<line x1="267.78" y1="173.70" x2="267.78" y2="175.70" stroke="#6a6a6a" stroke-width="0.8" />
<line x1="293.25" y1="173.70" x2="293.25" y2="177.50" stroke="#6a6a6a" stroke-width="0.8" />
<line x1="318.73" y1="173.70" x2="318.73" y2="175.70" stroke="#6a6a6a" stroke-width="0.8" />
<line x1="344.20" y1="173.70" x2="344.20" y2="177.50" stroke="#6a6a6a" stroke-width="0.8" />
<line x1="369.68" y1="173.70" x2="369.68" y2="175.70" stroke="#6a6a6a" stroke-width="0.8" />
<line x1="395.15" y1="173.70" x2="395.15" y2="177.50" stroke="#6a6a6a" stroke-width="0.8" />
<line x1="420.62" y1="173.70" x2="420.62" y2="175.70" stroke="#6a6a6a" stroke-width="0.8" />
<line x1="446.10" y1="173.70" x2="446.10" y2="177.50" stroke="#6a6a6a" stroke-width="0.8" />
<text x="242.30" y="191.20" font-size="10.2" text-anchor="middle" fill="#1a1a1a" >250</text>
<text x="293.25" y="191.20" font-size="10.2" text-anchor="middle" fill="#1a1a1a" >350</text>
<text x="344.20" y="191.20" font-size="10.2" text-anchor="middle" fill="#1a1a1a" >450</text>
<text x="395.15" y="191.20" font-size="10.2" text-anchor="middle" fill="#1a1a1a" >550</text>
<text x="446.10" y="191.20" font-size="10.2" text-anchor="middle" fill="#1a1a1a" >650</text>
<text x="351.30" y="206.50" font-size="10.2" text-anchor="middle" fill="#1a1a1a" textLength="77.1" lengthAdjust="spacingAndGlyphs" >Wavelength (nm)</text>
<text x="0" y="0" font-size="10.2" text-anchor="middle" fill="#1a1a1a" textLength="80.7" lengthAdjust="spacingAndGlyphs" transform="translate(204.60,85.90) rotate(-90)">Intensity (x10<tspan font-size="6.5" dy="-3.8">5</tspan><tspan dy="3.8">, a.u.)</tspan></text>
<text x="237.00" y="17.05" font-size="8.4" text-anchor="start" fill="#222" textLength="52.4" lengthAdjust="spacingAndGlyphs" >Em<tspan dx="0.7">@450 nm</tspan></text>
<text x="306.70" y="17.05" font-size="8.4" text-anchor="start" fill="#222" textLength="48.4" lengthAdjust="spacingAndGlyphs" >Ex<tspan dx="0.7">@335 nm</tspan></text>
<text x="385.80" y="17.10" font-size="8.4" text-anchor="start" fill="#2a5cf0" textLength="43.2" lengthAdjust="spacingAndGlyphs" >QY~99.9%</text>
<text x="276.20" y="73.70" font-size="9.5" text-anchor="start" fill="#222" >Sb<tspan font-size="6.2" dy="-3.4">3+</tspan></text>
<text x="335.80" y="53.00" font-size="9" text-anchor="start" fill="#2838a8" >STE<tspan font-size="6" dy="2.2">1</tspan></text>
<path d="M328.5,66.3 L336,66.3 M360,66.3 L367.8,66.3" stroke="#333" stroke-width="0.6"/>
<path d="M327.6,66.3 l3,-1.4 l0,2.8 Z M368.6,66.3 l-3,-1.4 l0,2.8 Z" fill="#333"/>
<text x="337.10" y="68.10" font-size="7.2" text-anchor="start" fill="#333" textLength="20.2" lengthAdjust="spacingAndGlyphs" >72 nm</text>
<rect x="430.90" y="7.90" width="37.90" height="37.20" fill="#000" stroke="none" stroke-width="0.8" />
<ellipse cx="449.6" cy="26.8" rx="13.6" ry="13.4" fill="url(#photo1)" filter="url(#bl1)"/>
<path d="M442.5,36 Q448,22 450,21 Q452,22 457.5,35 Q450,38.5 442.5,36 Z" fill="#0e1c90" opacity="0.75" filter="url(#bl1)"/>
<path d="M439.5,21.5 Q449,14.5 459.5,21 M442,35.5 L449.5,20.5 L457.5,34.5 M443,38 Q450,41 456.5,37.5" stroke="#4e74ff" stroke-width="1" fill="none" opacity="0.9"/>
<ellipse cx="448.5" cy="14.8" rx="2.5" ry="1.2" fill="#6ab0ff" opacity="0.8"/>
<text x="237.00" y="101.20" font-size="8.4" text-anchor="start" fill="#222" textLength="52.2" lengthAdjust="spacingAndGlyphs" >Em<tspan dx="0.7">@570 nm</tspan></text>
<text x="306.40" y="101.20" font-size="8.4" text-anchor="start" fill="#222" textLength="49.0" lengthAdjust="spacingAndGlyphs" >Ex<tspan dx="0.7">@302 nm</tspan></text>
<text x="385.90" y="101.20" font-size="8.4" text-anchor="start" fill="#f5a020" textLength="43.4" lengthAdjust="spacingAndGlyphs" >QY~97.5%</text>
<text x="263.40" y="168.00" font-size="9.5" text-anchor="start" fill="#222" >Sb<tspan font-size="6.2" dy="-3.4">3+</tspan></text>
<text x="339.00" y="138.60" font-size="9" text-anchor="start" fill="#30307e" >STE<tspan font-size="6" dy="2.2">1</tspan></text>
<text x="396.70" y="138.60" font-size="9" text-anchor="start" fill="#f5a020" >STE<tspan font-size="6" dy="2.2">2</tspan></text>
<path d="M326.5,151.7 L369.4,151.7 M400,151.7 L439.2,151.7" stroke="#555" stroke-width="0.6"/>
<path d="M325.4,151.7 l3,-1.4 l0,2.8 Z M440.3,151.7 l-3,-1.4 l0,2.8 Z" fill="#444"/>
<text x="372.00" y="153.50" font-size="7.2" text-anchor="start" fill="#333" textLength="24.6" lengthAdjust="spacingAndGlyphs" >210 nm</text>
<rect x="431.00" y="92.60" width="37.60" height="37.00" fill="#141414" stroke="none" stroke-width="0.8" />
<ellipse cx="449.5" cy="110.8" rx="13" ry="12.9" fill="url(#photo2)" filter="url(#bl1)"/>
<path d="M442.5,119 Q448,106 449.5,104.5 Q451,106 456.5,118.5 Q450,122 442.5,119 Z" fill="#6e6e74" opacity="0.6" filter="url(#bl1)"/>
<path d="M440,104.5 Q449,98.5 459,104 M442,119 L449.5,104.5 L457,118.5 M443,121.5 Q450,124.5 456.5,121" stroke="#f0f0f4" stroke-width="1" fill="none" opacity="0.85"/>
<line x1="452.60" y1="126.90" x2="464.10" y2="126.90" stroke="#fff" stroke-width="1.4" />
<text x="482.90" y="10.60" font-size="15" text-anchor="start" fill="#000" font-weight="bold" >c</text>
<rect x="524.60" y="43.80" width="77.10" height="25.20" fill="#e4fcfc" stroke="none" stroke-width="0.8" />
<rect x="620.10" y="9.10" width="57.30" height="32.50" fill="#fdfdd8" stroke="none" stroke-width="0.8" />
<rect x="522.30" y="7.30" width="158.40" height="62.00" fill="none" stroke="#8a8a8a" stroke-width="0.9" />
<line x1="520.50" y1="10.95" x2="522.30" y2="10.95" stroke="#6a6a6a" stroke-width="0.8" />
<line x1="519.30" y1="24.60" x2="522.30" y2="24.60" stroke="#6a6a6a" stroke-width="0.8" />
<line x1="520.50" y1="38.25" x2="522.30" y2="38.25" stroke="#6a6a6a" stroke-width="0.8" />
<line x1="519.30" y1="51.90" x2="522.30" y2="51.90" stroke="#6a6a6a" stroke-width="0.8" />
<line x1="520.50" y1="65.55" x2="522.30" y2="65.55" stroke="#6a6a6a" stroke-width="0.8" />
<text x="515.00" y="28.25" font-size="10.2" text-anchor="end" fill="#1a1a1a" >3.0</text>
<text x="515.00" y="55.55" font-size="10.2" text-anchor="end" fill="#1a1a1a" >1.5</text>
<text x="0" y="0" font-size="10.2" text-anchor="middle" fill="#1a1a1a" transform="translate(491.60,36.50) rotate(-90)">τ (μs)</text>
<text x="526.20" y="17.30" font-size="8.4" text-anchor="start" fill="#222" textLength="49.0" lengthAdjust="spacingAndGlyphs" >Ex<tspan dx="0.7">@302 nm</tspan></text>
<rect x="526.60" y="57.50" width="3.80" height="3.80" fill="#b4f0f0" stroke="#3e6464" stroke-width="0.65" />
<rect x="532.90" y="57.00" width="3.80" height="3.80" fill="#b4f0f0" stroke="#3e6464" stroke-width="0.65" />
<rect x="539.40" y="58.20" width="3.80" height="3.80" fill="#b4f0f0" stroke="#3e6464" stroke-width="0.65" />
<rect x="545.70" y="57.50" width="3.80" height="3.80" fill="#b4f0f0" stroke="#3e6464" stroke-width="0.65" />
<rect x="552.30" y="58.20" width="3.80" height="3.80" fill="#b4f0f0" stroke="#3e6464" stroke-width="0.65" />
<rect x="558.60" y="58.10" width="3.80" height="3.80" fill="#b4f0f0" stroke="#3e6464" stroke-width="0.65" />
<rect x="564.70" y="57.00" width="3.80" height="3.80" fill="#b4f0f0" stroke="#3e6464" stroke-width="0.65" />
<rect x="571.20" y="57.30" width="3.80" height="3.80" fill="#b4f0f0" stroke="#3e6464" stroke-width="0.65" />
<rect x="577.50" y="57.50" width="3.80" height="3.80" fill="#b4f0f0" stroke="#3e6464" stroke-width="0.65" />
<rect x="583.80" y="57.30" width="3.80" height="3.80" fill="#b4f0f0" stroke="#3e6464" stroke-width="0.65" />
<rect x="590.10" y="56.20" width="3.80" height="3.80" fill="#b4f0f0" stroke="#3e6464" stroke-width="0.65" />
<rect x="596.70" y="53.30" width="3.80" height="3.80" fill="#b4f0f0" stroke="#3e6464" stroke-width="0.65" />
<rect x="602.90" y="40.30" width="3.80" height="3.80" fill="#f8f8f8" stroke="#555" stroke-width="0.65" />
<rect x="609.20" y="34.00" width="3.80" height="3.80" fill="#f8f8f8" stroke="#555" stroke-width="0.65" />
<rect x="615.50" y="29.20" width="3.80" height="3.80" fill="#f8f8f8" stroke="#555" stroke-width="0.65" />
<rect x="621.80" y="24.40" width="3.80" height="3.80" fill="#f2f29a" stroke="#66662a" stroke-width="0.65" />
<rect x="628.10" y="21.20" width="3.80" height="3.80" fill="#f2f29a" stroke="#66662a" stroke-width="0.65" />
<rect x="634.40" y="21.50" width="3.80" height="3.80" fill="#f2f29a" stroke="#66662a" stroke-width="0.65" />
<rect x="640.70" y="14.60" width="3.80" height="3.80" fill="#f2f29a" stroke="#66662a" stroke-width="0.65" />
<rect x="647.00" y="19.70" width="3.80" height="3.80" fill="#f2f29a" stroke="#66662a" stroke-width="0.65" />
<rect x="653.20" y="20.60" width="3.80" height="3.80" fill="#f2f29a" stroke="#66662a" stroke-width="0.65" />
<rect x="659.50" y="20.30" width="3.80" height="3.80" fill="#f2f29a" stroke="#66662a" stroke-width="0.65" />
<rect x="665.80" y="20.00" width="3.80" height="3.80" fill="#f2f29a" stroke="#66662a" stroke-width="0.65" />
<rect x="672.70" y="19.10" width="3.80" height="3.80" fill="#f2f29a" stroke="#66662a" stroke-width="0.65" />
<text x="551.70" y="52.60" font-size="8.8" text-anchor="start" fill="#222" >STE<tspan font-size="6" dy="2.2">1</tspan></text>
<text x="642.40" y="37.00" font-size="8.8" text-anchor="start" fill="#222" >STE<tspan font-size="6" dy="2.2">2</tspan></text>
<g clip-path="url(#clipC)">
<rect x="522.30" y="76.60" width="158.40" height="98.00" fill="rgb(0,5,125)" stroke="none" stroke-width="0.8" />
<path d="M528.2,76.6 525.9,89.7 522.3,141.2 522.3,174.6 680.7,174.6 680.7,76.6Z" fill="rgb(0,10,133)" fill-rule="evenodd"/>
<path d="M680.7,80.2 668.2,78.2 643.2,78.2 610.9,80.2 592.9,80.5 581.9,82.2 571.7,86.0 561.7,87.7 556.2,89.7 552.4,92.5 542.7,102.7 532.2,115.5 528.9,121.0 526.9,128.7 525.7,138.7 523.4,174.6 680.7,174.6Z" fill="rgb(0,16,141)" fill-rule="evenodd"/>
<path d="M680.7,93.7 671.4,91.7 666.4,91.2 648.2,91.2 634.9,91.7 614.4,93.5 591.4,94.2 583.7,95.7 569.7,101.2 560.7,102.7 555.9,104.7 551.4,108.2 545.4,114.5 533.4,128.7 529.2,135.2 527.4,141.0 526.4,147.0 524.2,174.6 680.7,174.6Z" fill="rgb(0,23,150)" fill-rule="evenodd"/>
<path d="M680.7,103.2 667.7,100.5 644.9,100.5 613.2,103.0 594.2,103.5 583.9,105.2 570.2,110.7 561.2,112.0 557.9,113.0 553.4,115.7 547.2,121.7 530.4,142.0 528.4,146.2 527.2,151.2 525.7,162.7 524.9,174.6 680.7,174.6Z" fill="rgb(0,30,160)" fill-rule="evenodd"/>
<path d="M680.7,110.7 668.4,108.0 651.4,107.7 634.2,108.5 611.2,110.7 592.7,111.2 584.4,112.7 573.2,117.2 569.4,118.2 562.2,118.7 557.4,120.0 551.9,123.7 546.2,129.5 534.4,143.2 530.2,149.0 527.9,154.5 526.9,159.2 525.4,174.6 680.7,174.6Z" fill="rgb(0,44,173)" fill-rule="evenodd"/>
<path d="M680.7,117.7 671.7,115.0 666.2,114.2 637.4,114.7 613.9,117.2 590.9,118.0 584.4,119.2 571.7,123.7 561.9,124.2 557.7,125.2 551.9,129.0 545.9,135.0 530.4,153.7 528.4,158.0 527.4,161.7 525.7,174.6 680.7,174.6Z" fill="rgb(0,59,187)" fill-rule="evenodd"/>
<path d="M680.7,123.7 667.7,120.2 644.2,120.2 611.7,123.5 589.9,124.0 582.7,125.5 572.7,128.7 558.9,129.2 554.7,131.2 550.9,134.2 542.2,143.5 531.4,156.5 528.4,162.2 526.2,174.6 680.7,174.6Z" fill="rgb(0,82,198)" fill-rule="evenodd"/>
<path d="M680.7,129.7 669.2,126.0 653.7,125.5 637.2,126.2 612.4,129.2 589.2,129.5 572.9,133.2 559.2,133.0 555.4,134.5 551.7,137.2 545.4,143.5 533.4,157.5 528.9,164.5 526.7,174.6 680.7,174.6Z" fill="rgb(0,106,208)" fill-rule="evenodd"/>
<path d="M680.7,135.7 671.4,132.0 668.2,131.2 648.4,131.0 634.2,132.0 610.9,135.0 590.4,134.5 573.7,137.2 564.4,136.2 558.4,136.5 555.4,137.7 551.9,140.2 544.7,147.5 535.2,158.5 529.7,166.0 528.2,169.7 527.2,174.6 680.7,174.6Z" fill="rgb(0,133,219)" fill-rule="evenodd"/>
<path d="M680.7,142.0 671.9,137.7 668.4,136.7 663.4,136.2 638.9,137.0 614.7,140.5 602.9,140.5 592.9,139.5 586.9,139.5 577.7,140.7 571.2,140.7 563.9,139.2 559.2,139.2 556.7,140.0 552.7,142.5 542.9,152.2 531.4,166.0 528.9,170.5 527.7,174.6 680.7,174.6Z" fill="rgb(0,161,230)" fill-rule="evenodd"/>
<path d="M528.4,174.2 680.7,174.6 680.7,149.0 670.9,143.2 665.4,142.0 644.4,142.2 632.9,143.5 617.9,146.2 606.4,146.5 590.9,144.2 573.4,144.2 563.9,142.0 560.2,141.7 556.9,142.5 553.4,144.5 545.2,152.2 532.2,167.5 529.7,171.2Z" fill="rgb(0,196,240)" fill-rule="evenodd"/>
<path d="M529.4,174.0 529.4,174.6 680.7,174.6 680.7,158.5 672.4,150.7 669.7,149.2 665.4,148.2 654.7,148.0 644.4,148.5 632.9,150.0 619.4,153.0 609.4,153.2 591.2,149.0 574.7,147.5 563.9,144.5 559.2,144.2 554.7,146.0 550.4,149.2 536.7,164.2Z" fill="rgb(0,232,251)" fill-rule="evenodd"/>
<path d="M530.4,174.6 672.2,174.6 674.2,170.7 674.4,166.0 673.4,162.5 670.9,158.7 667.7,156.7 664.9,156.0 653.4,155.7 641.7,156.7 634.2,158.2 621.9,162.2 614.9,162.7 607.7,160.7 595.4,155.2 588.9,153.0 575.2,150.5 563.7,146.7 558.7,146.5 554.4,148.2 549.2,152.5 536.9,166.0Z" fill="rgb(0,247,225)" fill-rule="evenodd"/>
<path d="M531.7,174.6 607.4,174.6 606.2,171.0 603.4,167.2 599.9,164.0 594.2,160.0 586.9,156.5 576.2,153.5 562.2,148.5 556.9,149.0 551.9,152.0 542.9,161.0Z" fill="rgb(0,250,181)" fill-rule="evenodd"/>
<path d="M532.9,174.6 600.7,174.6 600.7,174.0 597.2,168.5 593.4,164.7 588.9,161.5 584.2,159.0 573.4,155.0 565.2,151.2 559.4,150.2 554.9,151.7 549.7,155.7 542.9,162.7Z" fill="rgb(10,251,139)" fill-rule="evenodd"/>
<path d="M534.4,174.6 596.2,174.2 593.2,169.7 589.4,166.0 584.9,162.7 566.2,153.5 562.4,152.2 559.2,152.0 554.4,153.7 550.4,156.7 544.4,162.7Z" fill="rgb(29,249,100)" fill-rule="evenodd"/>
<path d="M535.7,174.6 592.7,174.2 587.9,168.5 579.7,162.5 565.7,155.0 561.7,153.7 558.4,153.7 554.9,155.0 549.9,158.7 542.4,166.5Z" fill="rgb(65,248,68)" fill-rule="evenodd"/>
<path d="M536.9,174.6 589.7,174.2 584.7,168.7 577.2,163.2 564.2,156.0 561.4,155.2 558.4,155.2 554.9,156.5 550.4,159.7 544.4,165.7Z" fill="rgb(115,249,46)" fill-rule="evenodd"/>
<path d="M537.9,174.6 587.2,174.6 581.7,168.7 577.4,165.5 568.2,159.5 561.7,156.7 557.9,156.7 552.4,159.5 546.2,165.2Z" fill="rgb(170,250,29)" fill-rule="evenodd"/>
<path d="M539.2,174.6 584.9,174.6 579.7,169.2 573.4,164.5 566.4,160.0 560.9,158.0 558.4,158.0 555.9,158.7 552.2,161.0 543.4,169.5Z" fill="rgb(227,248,20)" fill-rule="evenodd"/>
<path d="M540.2,174.6 582.7,174.6 577.7,169.5 570.2,163.7 564.2,160.2 560.7,159.2 555.9,160.0 552.2,162.2Z" fill="rgb(255,236,18)" fill-rule="evenodd"/>
<path d="M541.2,174.6 580.9,174.6 575.4,169.2 569.9,165.0 564.7,161.7 560.7,160.5 557.2,160.7 552.4,163.2 549.2,166.0Z" fill="rgb(255,210,14)" fill-rule="evenodd"/>
<path d="M542.2,174.6 579.2,174.6 573.9,169.5 568.4,165.2 564.2,162.7 561.2,161.7 556.9,162.0 551.9,164.7Z" fill="rgb(255,184,10)" fill-rule="evenodd"/>
<path d="M543.2,174.6 577.7,174.6 568.4,166.5 563.2,163.5 560.4,162.7 557.2,163.0 553.4,164.7 549.9,167.5Z" fill="rgb(255,157,4)" fill-rule="evenodd"/>
<path d="M544.2,174.6 576.2,174.6 570.2,169.0 565.9,166.0 562.9,164.5 559.4,163.7 555.9,164.5 552.4,166.5Z" fill="rgb(255,130,0)" fill-rule="evenodd"/>
<path d="M544.9,174.6 574.9,174.6 567.7,168.2 561.2,165.0 557.4,165.0 553.9,166.5 549.7,169.7Z" fill="rgb(255,102,0)" fill-rule="evenodd"/>
<path d="M545.9,174.6 573.7,174.6 566.2,168.2 562.2,166.2 559.4,165.7 556.4,166.2 553.4,167.7Z" fill="rgb(255,74,0)" fill-rule="evenodd"/>
<path d="M546.7,174.6 572.4,174.6 566.2,169.2 562.9,167.5 560.2,166.7 556.2,167.2 553.7,168.5Z" fill="rgb(255,42,0)" fill-rule="evenodd"/>
<path d="M547.7,174.6 571.4,174.6 565.4,169.7 560.7,167.7 557.7,167.7 553.9,169.2Z" fill="rgb(255,9,0)" fill-rule="evenodd"/>
<path d="M548.4,174.6 570.2,174.6 565.2,170.5 559.9,168.5 556.2,169.0 553.7,170.2Z" fill="rgb(252,7,0)" fill-rule="evenodd"/>
<path d="M549.4,174.6 569.2,174.6 564.9,171.2 560.7,169.5 557.4,169.5 555.2,170.2Z" fill="rgb(250,5,0)" fill-rule="evenodd"/>
</g>
<path d="M522.30,76.90 C522.63,76.95 522.80,76.87 524.30,77.20 C525.80,77.53 528.97,78.03 531.30,78.90 C533.63,79.77 536.15,81.13 538.30,82.40 C540.45,83.67 542.25,84.83 544.20,86.50 C546.15,88.17 548.05,90.55 550.00,92.40 C551.95,94.25 553.95,96.02 555.90,97.60 C557.85,99.18 559.77,100.93 561.70,101.90 C563.63,102.87 565.55,103.20 567.50,103.40 C569.45,103.60 571.45,103.48 573.40,103.10 C575.35,102.72 577.27,101.92 579.20,101.10 C581.13,100.28 582.87,99.12 585.00,98.20 C587.13,97.28 589.67,96.15 592.00,95.60 C594.33,95.05 596.47,94.97 599.00,94.90 C601.53,94.83 604.63,94.97 607.20,95.20 C609.77,95.43 612.02,95.72 614.40,96.30 C616.78,96.88 619.12,97.93 621.50,98.70 C623.88,99.47 626.30,100.40 628.70,100.90 C631.10,101.40 633.70,101.50 635.90,101.70 C638.10,101.90 639.90,102.20 641.90,102.10 C643.90,102.00 645.70,101.50 647.90,101.10 C650.10,100.70 652.72,100.30 655.10,99.70 C657.48,99.10 659.82,98.25 662.20,97.50 C664.58,96.75 667.00,96.03 669.40,95.20 C671.80,94.37 674.72,93.20 676.60,92.50 C678.48,91.80 680.02,91.25 680.70,91.00" fill="none" stroke="#d0d0f0" stroke-width="0.8"/>
<text x="557.90" y="117.70" font-size="9" text-anchor="start" fill="#68b0f0" >STE<tspan font-size="6" dy="2.2">1</tspan></text>
<text x="631.60" y="116.90" font-size="9" text-anchor="start" fill="#dede30" >STE<tspan font-size="6" dy="2.2">2</tspan></text>
<rect x="665.40" y="109.50" width="7.60" height="38.10" fill="url(#jet)" stroke="#d0d0ff" stroke-width="0.3" />
<text x="0" y="0" font-size="5.5" text-anchor="middle" fill="#e8ffe8" transform="translate(671.40,128.50) rotate(-90)">Int.</text>
<text x="669.40" y="107.30" font-size="7.2" text-anchor="middle" fill="#fff" >max</text>
<text x="669.20" y="154.60" font-size="7.5" text-anchor="middle" fill="#fff" >min</text>
<line x1="519.30" y1="174.90" x2="522.30" y2="174.90" stroke="#6a6a6a" stroke-width="0.8" />
<line x1="520.50" y1="154.30" x2="522.30" y2="154.30" stroke="#6a6a6a" stroke-width="0.8" />
<line x1="519.30" y1="133.70" x2="522.30" y2="133.70" stroke="#6a6a6a" stroke-width="0.8" />
<line x1="520.50" y1="113.10" x2="522.30" y2="113.10" stroke="#6a6a6a" stroke-width="0.8" />
<line x1="519.30" y1="92.50" x2="522.30" y2="92.50" stroke="#6a6a6a" stroke-width="0.8" />
<text x="514.60" y="178.55" font-size="10.2" text-anchor="end" fill="#1a1a1a" >0</text>
<text x="514.60" y="137.35" font-size="10.2" text-anchor="end" fill="#1a1a1a" >5</text>
<text x="514.60" y="96.15" font-size="10.2" text-anchor="end" fill="#1a1a1a" >10</text>
<line x1="535.60" y1="174.60" x2="535.60" y2="178.10" stroke="#6a6a6a" stroke-width="0.8" />
<line x1="567.00" y1="174.60" x2="567.00" y2="176.60" stroke="#6a6a6a" stroke-width="0.8" />
<line x1="598.40" y1="174.60" x2="598.40" y2="178.10" stroke="#6a6a6a" stroke-width="0.8" />
<line x1="629.80" y1="174.60" x2="629.80" y2="176.60" stroke="#6a6a6a" stroke-width="0.8" />
<line x1="661.20" y1="174.60" x2="661.20" y2="178.10" stroke="#6a6a6a" stroke-width="0.8" />
<text x="535.60" y="191.00" font-size="10.2" text-anchor="middle" fill="#1a1a1a" >400</text>
<text x="598.40" y="191.00" font-size="10.2" text-anchor="middle" fill="#1a1a1a" >500</text>
<text x="661.20" y="191.00" font-size="10.2" text-anchor="middle" fill="#1a1a1a" >600</text>
<text x="601.30" y="207.10" font-size="10.2" text-anchor="middle" fill="#1a1a1a" textLength="77.1" lengthAdjust="spacingAndGlyphs" >Wavelength (nm)</text>
<text x="0" y="0" font-size="10.2" text-anchor="middle" fill="#1a1a1a" transform="translate(492.00,125.50) rotate(-90)">Time (μs)</text>
<text x="1.40" y="236.40" font-size="14.7" text-anchor="start" fill="#000" font-weight="bold" >d</text>
<rect x="43.50" y="232.00" width="107.20" height="167.00" fill="none" stroke="#8a8a8a" stroke-width="0.9" />
<line x1="40.50" y1="399.00" x2="43.50" y2="399.00" stroke="#6a6a6a" stroke-width="0.8" />
<line x1="41.70" y1="365.88" x2="43.50" y2="365.88" stroke="#6a6a6a" stroke-width="0.8" />
<line x1="40.50" y1="332.75" x2="43.50" y2="332.75" stroke="#6a6a6a" stroke-width="0.8" />
<line x1="41.70" y1="299.62" x2="43.50" y2="299.62" stroke="#6a6a6a" stroke-width="0.8" />
<line x1="40.50" y1="266.50" x2="43.50" y2="266.50" stroke="#6a6a6a" stroke-width="0.8" />
<line x1="41.70" y1="233.37" x2="43.50" y2="233.37" stroke="#6a6a6a" stroke-width="0.8" />
<text x="35.80" y="402.65" font-size="10.2" text-anchor="end" fill="#1a1a1a" >0.3</text>
<text x="35.80" y="336.40" font-size="10.2" text-anchor="end" fill="#1a1a1a" >0.4</text>
<text x="35.80" y="270.15" font-size="10.2" text-anchor="end" fill="#1a1a1a" >0.5</text>
<line x1="58.30" y1="399.00" x2="58.30" y2="402.50" stroke="#6a6a6a" stroke-width="0.8" />
<line x1="78.80" y1="399.00" x2="78.80" y2="401.00" stroke="#6a6a6a" stroke-width="0.8" />
<line x1="99.30" y1="399.00" x2="99.30" y2="402.50" stroke="#6a6a6a" stroke-width="0.8" />
<line x1="119.80" y1="399.00" x2="119.80" y2="401.00" stroke="#6a6a6a" stroke-width="0.8" />
<line x1="140.30" y1="399.00" x2="140.30" y2="402.50" stroke="#6a6a6a" stroke-width="0.8" />
<text x="58.30" y="416.60" font-size="10.2" text-anchor="middle" fill="#1a1a1a" >100</text>
<text x="99.30" y="416.60" font-size="10.2" text-anchor="middle" fill="#1a1a1a" >200</text>
<text x="140.30" y="416.60" font-size="10.2" text-anchor="middle" fill="#1a1a1a" >300</text>
<text x="97.20" y="432.70" font-size="10.2" text-anchor="middle" fill="#1a1a1a" textLength="74.5" lengthAdjust="spacingAndGlyphs" >Temperature (K)</text>
<text x="0" y="0" font-size="10.2" text-anchor="middle" fill="#1a1a1a" textLength="52.5" lengthAdjust="spacingAndGlyphs" transform="translate(10.80,315.50) rotate(-90)">FWHM (eV)</text>
<path d="M50.20,384.10 L58.40,367.70 L66.60,351.30 L74.80,335.90 L83.40,325.20 L90.90,314.30 L99.40,298.30 L107.80,283.50 L116.40,274.40 L124.40,264.20 L132.40,251.60 L140.40,238.00 L143.20,233.80" fill="none" stroke="#f2a040" stroke-width="0.9" stroke-dasharray="2.2 1.5"/>
<path d="M49.00,371.00 L58.30,368.80 L66.60,364.40 L74.80,357.60 L83.00,352.80 L91.20,346.00 L99.40,337.60 L107.60,333.70 L115.80,328.50 L124.00,323.70 L132.20,314.30 L140.40,306.80 L143.20,304.60" fill="none" stroke="#4646c8" stroke-width="0.85" stroke-dasharray="2.2 1.5"/>
<rect x="48.00" y="370.90" width="4.20" height="4.20" fill="#b8ecf4" stroke="#3a6878" stroke-width="0.65" />
<rect x="56.20" y="366.70" width="4.20" height="4.20" fill="#b8ecf4" stroke="#3a6878" stroke-width="0.65" />
<rect x="64.40" y="362.30" width="4.20" height="4.20" fill="#b8ecf4" stroke="#3a6878" stroke-width="0.65" />
<rect x="72.60" y="355.50" width="4.20" height="4.20" fill="#b8ecf4" stroke="#3a6878" stroke-width="0.65" />
<rect x="80.80" y="350.70" width="4.20" height="4.20" fill="#b8ecf4" stroke="#3a6878" stroke-width="0.65" />
<rect x="89.00" y="343.90" width="4.20" height="4.20" fill="#b8ecf4" stroke="#3a6878" stroke-width="0.65" />
<rect x="97.20" y="335.50" width="4.20" height="4.20" fill="#b8ecf4" stroke="#3a6878" stroke-width="0.65" />
<rect x="105.40" y="331.60" width="4.20" height="4.20" fill="#b8ecf4" stroke="#3a6878" stroke-width="0.65" />
<rect x="113.60" y="326.40" width="4.20" height="4.20" fill="#b8ecf4" stroke="#3a6878" stroke-width="0.65" />
<rect x="121.80" y="321.60" width="4.20" height="4.20" fill="#b8ecf4" stroke="#3a6878" stroke-width="0.65" />
<rect x="130.00" y="312.20" width="4.20" height="4.20" fill="#b8ecf4" stroke="#3a6878" stroke-width="0.65" />
<rect x="138.20" y="304.70" width="4.20" height="4.20" fill="#b8ecf4" stroke="#3a6878" stroke-width="0.65" />
<rect x="48.00" y="370.30" width="4.20" height="4.20" fill="#f6f09a" stroke="#6a6420" stroke-width="0.65" />
<rect x="56.20" y="363.90" width="4.20" height="4.20" fill="#f6f09a" stroke="#6a6420" stroke-width="0.65" />
<rect x="64.40" y="348.70" width="4.20" height="4.20" fill="#f6f09a" stroke="#6a6420" stroke-width="0.65" />
<rect x="72.60" y="331.60" width="4.20" height="4.20" fill="#f6f09a" stroke="#6a6420" stroke-width="0.65" />
<rect x="80.80" y="323.20" width="4.20" height="4.20" fill="#f6f09a" stroke="#6a6420" stroke-width="0.65" />
<rect x="89.00" y="313.40" width="4.20" height="4.20" fill="#f6f09a" stroke="#6a6420" stroke-width="0.65" />
<rect x="97.20" y="296.50" width="4.20" height="4.20" fill="#f6f09a" stroke="#6a6420" stroke-width="0.65" />
<rect x="105.40" y="281.20" width="4.20" height="4.20" fill="#f6f09a" stroke="#6a6420" stroke-width="0.65" />
<rect x="113.60" y="273.00" width="4.20" height="4.20" fill="#f6f09a" stroke="#6a6420" stroke-width="0.65" />
<rect x="121.80" y="264.00" width="4.20" height="4.20" fill="#f6f09a" stroke="#6a6420" stroke-width="0.65" />
<rect x="130.00" y="251.00" width="4.20" height="4.20" fill="#f6f09a" stroke="#6a6420" stroke-width="0.65" />
<rect x="138.20" y="236.40" width="4.20" height="4.20" fill="#f6f09a" stroke="#6a6420" stroke-width="0.65" />
<text x="46.30" y="245.00" font-size="7.1" text-anchor="start" fill="#222" textLength="31.6" lengthAdjust="spacingAndGlyphs" ><tspan font-style="italic">S</tspan> = 60.53</text>
<text x="46.30" y="258.70" font-size="7.1" text-anchor="start" fill="#222" textLength="53.5" lengthAdjust="spacingAndGlyphs" ><tspan font-style="italic">ħω</tspan> = 14.78 meV</text>
<text x="46.00" y="270.10" font-size="7.1" text-anchor="start" fill="#222" textLength="51.1" lengthAdjust="spacingAndGlyphs" ><tspan font-style="italic">γ</tspan> = 172.61 meV</text>
<text x="107.00" y="245.80" font-size="9" text-anchor="start" fill="#f2a040" >STE<tspan font-size="6" dy="2.2">2</tspan></text>
<text x="125.00" y="341.00" font-size="9.2" text-anchor="start" fill="#3c3cf0" >STE<tspan font-size="6" dy="2.2">1</tspan></text>
<text x="147.40" y="365.30" font-size="7.1" text-anchor="end" fill="#222" textLength="31.4" lengthAdjust="spacingAndGlyphs" ><tspan font-style="italic">S</tspan> = 15.97</text>
<text x="147.40" y="379.00" font-size="7.1" text-anchor="end" fill="#222" textLength="53.4" lengthAdjust="spacingAndGlyphs" ><tspan font-style="italic">ħω</tspan> = 36.27 meV</text>
<text x="147.40" y="392.10" font-size="7.1" text-anchor="end" fill="#222" textLength="52.7" lengthAdjust="spacingAndGlyphs" ><tspan font-style="italic">γ</tspan> = 295.07 meV</text>
<text x="165.00" y="236.40" font-size="14.7" text-anchor="start" fill="#000" font-weight="bold" >e</text>
<rect x="183.50" y="231.40" width="107.30" height="167.70" fill="none" stroke="#8a8a8a" stroke-width="0.9" />
<line x1="187.79" y1="399.10" x2="187.79" y2="400.90" stroke="#6a6a6a" stroke-width="0.7" />
<line x1="192.48" y1="399.10" x2="192.48" y2="400.90" stroke="#6a6a6a" stroke-width="0.7" />
<line x1="196.11" y1="399.10" x2="196.11" y2="400.90" stroke="#6a6a6a" stroke-width="0.7" />
<line x1="199.08" y1="399.10" x2="199.08" y2="400.90" stroke="#6a6a6a" stroke-width="0.7" />
<line x1="201.59" y1="399.10" x2="201.59" y2="400.90" stroke="#6a6a6a" stroke-width="0.7" />
<line x1="203.77" y1="399.10" x2="203.77" y2="400.90" stroke="#6a6a6a" stroke-width="0.7" />
<line x1="205.68" y1="399.10" x2="205.68" y2="400.90" stroke="#6a6a6a" stroke-width="0.7" />
<line x1="207.40" y1="399.10" x2="207.40" y2="402.60" stroke="#6a6a6a" stroke-width="0.7" />
<line x1="218.69" y1="399.10" x2="218.69" y2="400.90" stroke="#6a6a6a" stroke-width="0.7" />
<line x1="225.29" y1="399.10" x2="225.29" y2="400.90" stroke="#6a6a6a" stroke-width="0.7" />
<line x1="229.98" y1="399.10" x2="229.98" y2="400.90" stroke="#6a6a6a" stroke-width="0.7" />
<line x1="233.61" y1="399.10" x2="233.61" y2="400.90" stroke="#6a6a6a" stroke-width="0.7" />
<line x1="236.58" y1="399.10" x2="236.58" y2="400.90" stroke="#6a6a6a" stroke-width="0.7" />
<line x1="239.09" y1="399.10" x2="239.09" y2="400.90" stroke="#6a6a6a" stroke-width="0.7" />
<line x1="241.27" y1="399.10" x2="241.27" y2="400.90" stroke="#6a6a6a" stroke-width="0.7" />
<line x1="243.18" y1="399.10" x2="243.18" y2="400.90" stroke="#6a6a6a" stroke-width="0.7" />
<line x1="244.90" y1="399.10" x2="244.90" y2="402.60" stroke="#6a6a6a" stroke-width="0.7" />
<line x1="256.19" y1="399.10" x2="256.19" y2="400.90" stroke="#6a6a6a" stroke-width="0.7" />
<line x1="262.79" y1="399.10" x2="262.79" y2="400.90" stroke="#6a6a6a" stroke-width="0.7" />
<line x1="267.48" y1="399.10" x2="267.48" y2="400.90" stroke="#6a6a6a" stroke-width="0.7" />
<line x1="271.11" y1="399.10" x2="271.11" y2="400.90" stroke="#6a6a6a" stroke-width="0.7" />
<line x1="274.08" y1="399.10" x2="274.08" y2="400.90" stroke="#6a6a6a" stroke-width="0.7" />
<line x1="276.59" y1="399.10" x2="276.59" y2="400.90" stroke="#6a6a6a" stroke-width="0.7" />
<line x1="278.77" y1="399.10" x2="278.77" y2="400.90" stroke="#6a6a6a" stroke-width="0.7" />
<line x1="280.68" y1="399.10" x2="280.68" y2="400.90" stroke="#6a6a6a" stroke-width="0.7" />
<line x1="282.40" y1="399.10" x2="282.40" y2="402.60" stroke="#6a6a6a" stroke-width="0.7" />
<text x="199.40" y="419.00" font-size="9.9" text-anchor="start" fill="#1a1a1a" >10<tspan font-size="7" dy="-4.3">1</tspan></text>
<text x="236.90" y="419.00" font-size="9.9" text-anchor="start" fill="#1a1a1a" >10<tspan font-size="7" dy="-4.3">2</tspan></text>
<text x="275.30" y="419.00" font-size="9.9" text-anchor="start" fill="#1a1a1a" >10<tspan font-size="7" dy="-4.3">3</tspan></text>
<text x="237.40" y="435.80" font-size="10.2" text-anchor="middle" fill="#1a1a1a" textLength="97" lengthAdjust="spacingAndGlyphs" >Sb<tspan font-size="7" dy="-4.3">3+</tspan><tspan dy="4.3"> content (mg/Kg)</tspan></text>
<text x="0" y="0" font-size="10.2" text-anchor="middle" fill="#1a1a1a" textLength="74" lengthAdjust="spacingAndGlyphs" transform="translate(173.80,315.90) rotate(-90)">Integral intensity</text>
<text x="185.80" y="240.90" font-size="8.5" text-anchor="start" fill="#222" textLength="48.5" lengthAdjust="spacingAndGlyphs" >Ex<tspan dx="0.7">@335 nm</tspan></text>
<path d="M186.40,280.10 C187.17,279.42 189.40,278.02 191.00,276.00 C192.60,273.98 194.50,270.92 196.00,268.00 C197.50,265.08 198.67,261.33 200.00,258.50 C201.33,255.67 202.67,252.82 204.00,251.00 C205.33,249.18 206.83,248.18 208.00,247.60 C209.17,247.02 209.83,247.10 211.00,247.50 C212.17,247.90 213.67,248.58 215.00,250.00 C216.33,251.42 217.63,253.50 219.00,256.00 C220.37,258.50 221.70,262.33 223.20,265.00 C224.70,267.67 226.43,270.22 228.00,272.00 C229.57,273.78 230.80,274.47 232.60,275.70 C234.40,276.93 236.57,278.62 238.80,279.40 C241.03,280.18 242.70,280.18 246.00,280.40 C249.30,280.62 256.50,280.65 258.60,280.70" fill="none" stroke="#333" stroke-width="0.7" stroke-dasharray="1.5 1.0"/>
<path d="M186.40,295.60 C187.17,295.00 189.40,293.93 191.00,292.00 C192.60,290.07 194.50,287.00 196.00,284.00 C197.50,281.00 198.67,277.00 200.00,274.00 C201.33,271.00 202.83,267.80 204.00,266.00 C205.17,264.20 206.00,263.73 207.00,263.20 C208.00,262.67 209.00,262.63 210.00,262.80 C211.00,262.97 211.83,263.08 213.00,264.20 C214.17,265.32 215.50,267.20 217.00,269.50 C218.50,271.80 220.33,275.33 222.00,278.00 C223.67,280.67 225.33,283.50 227.00,285.50 C228.67,287.50 230.23,288.93 232.00,290.00 C233.77,291.07 235.60,291.23 237.60,291.90 C239.60,292.57 241.92,293.47 244.00,294.00 C246.08,294.53 247.67,294.85 250.10,295.10 C252.53,295.35 257.18,295.43 258.60,295.50 L258.6,298 L186.4,298 Z" fill="url(#gBlueE)"/>
<path d="M186.40,295.60 C187.17,295.00 189.40,293.93 191.00,292.00 C192.60,290.07 194.50,287.00 196.00,284.00 C197.50,281.00 198.67,277.00 200.00,274.00 C201.33,271.00 202.83,267.80 204.00,266.00 C205.17,264.20 206.00,263.73 207.00,263.20 C208.00,262.67 209.00,262.63 210.00,262.80 C211.00,262.97 211.83,263.08 213.00,264.20 C214.17,265.32 215.50,267.20 217.00,269.50 C218.50,271.80 220.33,275.33 222.00,278.00 C223.67,280.67 225.33,283.50 227.00,285.50 C228.67,287.50 230.23,288.93 232.00,290.00 C233.77,291.07 235.60,291.23 237.60,291.90 C239.60,292.57 241.92,293.47 244.00,294.00 C246.08,294.53 247.67,294.85 250.10,295.10 C252.53,295.35 257.18,295.43 258.60,295.50" fill="none" stroke="#3848c0" stroke-width="0.75"/>
<line x1="186.40" y1="298.20" x2="258.60" y2="298.20" stroke="#777" stroke-width="0.7" />
<line x1="191.50" y1="296.70" x2="191.50" y2="298.20" stroke="#444" stroke-width="0.6" />
<line x1="208.50" y1="296.70" x2="208.50" y2="298.20" stroke="#444" stroke-width="0.6" />
<line x1="225.70" y1="296.70" x2="225.70" y2="298.20" stroke="#444" stroke-width="0.6" />
<line x1="241.40" y1="296.70" x2="241.40" y2="298.20" stroke="#444" stroke-width="0.6" />
<text x="201.90" y="307.60" font-size="7" text-anchor="start" fill="#222" textLength="12.6" lengthAdjust="spacingAndGlyphs" >450</text>
<text x="235.70" y="307.60" font-size="7" text-anchor="start" fill="#222" textLength="12.6" lengthAdjust="spacingAndGlyphs" >550</text>
<text x="212.80" y="317.00" font-size="7" text-anchor="start" fill="#222" textLength="21.2" lengthAdjust="spacingAndGlyphs" ><tspan font-style="italic">λ</tspan> (nm)</text>
<text x="243.50" y="276.90" font-size="7" text-anchor="start" fill="#222" textLength="15.3" lengthAdjust="spacingAndGlyphs" >Host</text>
<text x="249.00" y="292.80" font-size="7" text-anchor="start" fill="#222" textLength="9.8" lengthAdjust="spacingAndGlyphs" >Sb</text>
<text x="201.40" y="288.80" font-size="9" text-anchor="start" fill="#4a3cf0" >STE<tspan font-size="6" dy="2.2">1</tspan></text>
<path d="M194.30,384.60 C195.92,384.43 200.72,383.97 204.00,383.60 C207.28,383.23 210.88,383.90 214.00,382.40 C217.12,380.90 220.33,376.58 222.70,374.60 C225.07,372.62 226.15,372.55 228.20,370.50 C230.25,368.45 232.95,365.02 235.00,362.30 C237.05,359.58 238.67,357.15 240.50,354.20 C242.33,351.25 244.30,348.02 246.00,344.60 C247.70,341.18 249.37,337.13 250.70,333.70 C252.03,330.27 252.75,327.32 254.00,324.00 C255.25,320.68 256.47,317.88 258.20,313.80 C259.93,309.72 262.35,304.63 264.40,299.50 C266.45,294.37 268.45,288.47 270.50,283.00 C272.55,277.53 274.67,272.20 276.70,266.70 C278.73,261.20 281.70,252.78 282.70,250.00" fill="none" stroke="#5a5ad8" stroke-width="0.8" stroke-dasharray="1.2 1.2"/>
<circle cx="194.3" cy="384.6" r="2.3" fill="#c4d8ff" stroke="#3a70e8" stroke-width="1.2"/>
<circle cx="214" cy="382.4" r="2.3" fill="#c4d8ff" stroke="#3a70e8" stroke-width="1.2"/>
<circle cx="222.8" cy="374.8" r="2.3" fill="#c4d8ff" stroke="#3a70e8" stroke-width="1.2"/>
<circle cx="239.6" cy="364.6" r="2.3" fill="#c4d8ff" stroke="#3a70e8" stroke-width="1.2"/>
<circle cx="283.1" cy="248.9" r="2.3" fill="#c4d8ff" stroke="#3a70e8" stroke-width="1.2"/>
<text x="189.40" y="379.10" font-size="7" text-anchor="start" fill="#222" textLength="8.8" lengthAdjust="spacingAndGlyphs" >(1)</text>
<text x="209.10" y="393.00" font-size="7" text-anchor="start" fill="#222" textLength="8.8" lengthAdjust="spacingAndGlyphs" >(2)</text>
<text x="217.90" y="370.00" font-size="7" text-anchor="start" fill="#222" textLength="8.8" lengthAdjust="spacingAndGlyphs" >(3)</text>
<text x="244.20" y="366.70" font-size="7" text-anchor="start" fill="#222" textLength="8.8" lengthAdjust="spacingAndGlyphs" >(4)</text>
<text x="278.70" y="243.60" font-size="7" text-anchor="start" fill="#222" textLength="8.8" lengthAdjust="spacingAndGlyphs" >(5)</text>
<text x="241.50" y="392.80" font-size="9" text-anchor="start" fill="#222" textLength="47.6" lengthAdjust="spacingAndGlyphs" >Cs<tspan font-size="6" dy="1.8">2</tspan><tspan dy="-1.8">NaScCl</tspan><tspan font-size="6" dy="1.8">6</tspan></text>
<text x="301.30" y="235.80" font-size="14.7" text-anchor="start" fill="#000" font-weight="bold" >f</text>
<rect x="336.20" y="231.40" width="67.61" height="7.05" fill="#00007f" stroke="none" stroke-width="0.8" />
<rect x="403.76" y="231.40" width="10.59" height="7.05" fill="#808080" stroke="none" stroke-width="0.8" />
<rect x="336.20" y="238.20" width="3.17" height="6.85" fill="#f86060" stroke="none" stroke-width="0.8" />
<rect x="339.32" y="238.20" width="66.83" height="6.85" fill="#00007f" stroke="none" stroke-width="0.8" />
<rect x="406.10" y="238.20" width="8.25" height="6.85" fill="#808080" stroke="none" stroke-width="0.8" />
<rect x="336.20" y="263.30" width="72.68" height="4.55" fill="#00007f" stroke="none" stroke-width="0.8" />
<rect x="408.83" y="263.30" width="5.52" height="4.55" fill="#808080" stroke="none" stroke-width="0.8" />
<rect x="336.20" y="352.40" width="0.99" height="22.45" fill="#6060a8" stroke="none" stroke-width="0.8" />
<rect x="337.14" y="352.40" width="77.21" height="22.45" fill="#808080" stroke="none" stroke-width="0.8" />
<rect x="336.20" y="379.20" width="7.86" height="9.55" fill="#00007f" stroke="none" stroke-width="0.8" />
<rect x="344.01" y="379.20" width="70.34" height="9.55" fill="#808080" stroke="none" stroke-width="0.8" />
<rect x="336.20" y="388.50" width="1.22" height="8.55" fill="#f86060" stroke="none" stroke-width="0.8" />
<rect x="337.37" y="388.50" width="8.25" height="8.55" fill="#00007f" stroke="none" stroke-width="0.8" />
<rect x="345.57" y="388.50" width="68.78" height="8.55" fill="#808080" stroke="none" stroke-width="0.8" />
<rect x="427.30" y="231.40" width="65.99" height="7.05" fill="#00007f" stroke="none" stroke-width="0.8" />
<rect x="493.24" y="231.40" width="1.46" height="7.05" fill="#ffff00" stroke="none" stroke-width="0.8" />
<rect x="494.65" y="231.40" width="11.20" height="7.05" fill="#808080" stroke="none" stroke-width="0.8" />
<rect x="427.30" y="238.20" width="2.80" height="7.15" fill="#f86060" stroke="none" stroke-width="0.8" />
<rect x="430.05" y="238.20" width="65.60" height="7.15" fill="#00007f" stroke="none" stroke-width="0.8" />
<rect x="495.60" y="238.20" width="0.84" height="7.15" fill="#ffff00" stroke="none" stroke-width="0.8" />
<rect x="496.38" y="238.20" width="9.47" height="7.15" fill="#808080" stroke="none" stroke-width="0.8" />
<rect x="427.30" y="249.90" width="2.40" height="4.85" fill="#f86060" stroke="none" stroke-width="0.8" />
<rect x="429.66" y="249.90" width="4.76" height="4.85" fill="#00007f" stroke="none" stroke-width="0.8" />
<rect x="434.37" y="249.90" width="41.26" height="4.85" fill="#ffff00" stroke="none" stroke-width="0.8" />
<rect x="475.58" y="249.90" width="30.27" height="4.85" fill="#808080" stroke="none" stroke-width="0.8" />
<rect x="427.30" y="254.50" width="4.37" height="4.25" fill="#f86060" stroke="none" stroke-width="0.8" />
<rect x="431.62" y="254.50" width="14.57" height="4.25" fill="#00007f" stroke="none" stroke-width="0.8" />
<rect x="446.14" y="254.50" width="34.98" height="4.25" fill="#ffff00" stroke="none" stroke-width="0.8" />
<rect x="481.07" y="254.50" width="24.78" height="4.25" fill="#808080" stroke="none" stroke-width="0.8" />
<rect x="427.30" y="263.30" width="73.84" height="4.35" fill="#00007f" stroke="none" stroke-width="0.8" />
<rect x="501.09" y="263.30" width="4.76" height="4.35" fill="#808080" stroke="none" stroke-width="0.8" />
<rect x="427.30" y="334.60" width="0.84" height="4.25" fill="#f86060" stroke="none" stroke-width="0.8" />
<rect x="428.09" y="334.60" width="18.50" height="4.25" fill="#ffff00" stroke="none" stroke-width="0.8" />
<rect x="446.53" y="334.60" width="59.32" height="4.25" fill="#808080" stroke="none" stroke-width="0.8" />
<rect x="427.30" y="352.70" width="0.99" height="22.25" fill="#6060a8" stroke="none" stroke-width="0.8" />
<rect x="428.24" y="352.70" width="77.61" height="22.25" fill="#808080" stroke="none" stroke-width="0.8" />
<rect x="427.30" y="379.20" width="7.11" height="9.55" fill="#00007f" stroke="none" stroke-width="0.8" />
<rect x="434.37" y="379.20" width="71.48" height="9.55" fill="#808080" stroke="none" stroke-width="0.8" />
<rect x="427.30" y="388.50" width="0.99" height="8.65" fill="#f86060" stroke="none" stroke-width="0.8" />
<rect x="428.24" y="388.50" width="9.31" height="8.65" fill="#00007f" stroke="none" stroke-width="0.8" />
<rect x="437.50" y="388.50" width="0.84" height="8.65" fill="#ffff00" stroke="none" stroke-width="0.8" />
<rect x="438.29" y="388.50" width="67.56" height="8.65" fill="#808080" stroke="none" stroke-width="0.8" />
<line x1="339.20" y1="355.50" x2="414.30" y2="355.50" stroke="#8a8a8a" stroke-width="0.35" />
<line x1="339.20" y1="359.00" x2="414.30" y2="359.00" stroke="#8a8a8a" stroke-width="0.35" />
<line x1="339.20" y1="363.00" x2="414.30" y2="363.00" stroke="#8a8a8a" stroke-width="0.35" />
<line x1="339.20" y1="366.50" x2="414.30" y2="366.50" stroke="#8a8a8a" stroke-width="0.35" />
<line x1="339.20" y1="370.00" x2="414.30" y2="370.00" stroke="#8a8a8a" stroke-width="0.35" />
<line x1="339.20" y1="383.50" x2="414.30" y2="383.50" stroke="#8a8a8a" stroke-width="0.35" />
<line x1="339.20" y1="387.00" x2="414.30" y2="387.00" stroke="#8a8a8a" stroke-width="0.35" />
<line x1="339.20" y1="391.50" x2="414.30" y2="391.50" stroke="#8a8a8a" stroke-width="0.35" />
<line x1="430.30" y1="355.50" x2="505.80" y2="355.50" stroke="#8a8a8a" stroke-width="0.35" />
<line x1="430.30" y1="359.00" x2="505.80" y2="359.00" stroke="#8a8a8a" stroke-width="0.35" />
<line x1="430.30" y1="363.00" x2="505.80" y2="363.00" stroke="#8a8a8a" stroke-width="0.35" />
<line x1="430.30" y1="366.50" x2="505.80" y2="366.50" stroke="#8a8a8a" stroke-width="0.35" />
<line x1="430.30" y1="370.00" x2="505.80" y2="370.00" stroke="#8a8a8a" stroke-width="0.35" />
<line x1="430.30" y1="383.50" x2="505.80" y2="383.50" stroke="#8a8a8a" stroke-width="0.35" />
<line x1="430.30" y1="387.00" x2="505.80" y2="387.00" stroke="#8a8a8a" stroke-width="0.35" />
<line x1="430.30" y1="391.50" x2="505.80" y2="391.50" stroke="#8a8a8a" stroke-width="0.35" />
<line x1="336.20" y1="231.40" x2="336.20" y2="398.30" stroke="#8a8a8a" stroke-width="0.9" />
<line x1="414.30" y1="231.40" x2="414.30" y2="398.30" stroke="#8a8a8a" stroke-width="0.9" />
<line x1="336.20" y1="398.30" x2="414.30" y2="398.30" stroke="#c4c4c4" stroke-width="0.9" />
<line x1="336.20" y1="398.30" x2="336.20" y2="401.50" stroke="#6a6a6a" stroke-width="0.7" />
<line x1="355.73" y1="398.30" x2="355.73" y2="400.10" stroke="#6a6a6a" stroke-width="0.7" />
<line x1="375.25" y1="398.30" x2="375.25" y2="401.50" stroke="#6a6a6a" stroke-width="0.7" />
<line x1="394.77" y1="398.30" x2="394.77" y2="400.10" stroke="#6a6a6a" stroke-width="0.7" />
<line x1="414.30" y1="398.30" x2="414.30" y2="401.50" stroke="#6a6a6a" stroke-width="0.7" />
<line x1="427.30" y1="231.40" x2="427.30" y2="398.30" stroke="#8a8a8a" stroke-width="0.9" />
<line x1="505.80" y1="231.40" x2="505.80" y2="398.30" stroke="#8a8a8a" stroke-width="0.9" />
<line x1="427.30" y1="398.30" x2="505.80" y2="398.30" stroke="#c4c4c4" stroke-width="0.9" />
<line x1="427.30" y1="398.30" x2="427.30" y2="401.50" stroke="#6a6a6a" stroke-width="0.7" />
<line x1="446.93" y1="398.30" x2="446.93" y2="400.10" stroke="#6a6a6a" stroke-width="0.7" />
<line x1="466.55" y1="398.30" x2="466.55" y2="401.50" stroke="#6a6a6a" stroke-width="0.7" />
<line x1="486.18" y1="398.30" x2="486.18" y2="400.10" stroke="#6a6a6a" stroke-width="0.7" />
<line x1="505.80" y1="398.30" x2="505.80" y2="401.50" stroke="#6a6a6a" stroke-width="0.7" />
<line x1="333.20" y1="390.20" x2="336.20" y2="390.20" stroke="#6a6a6a" stroke-width="0.7" />
<line x1="334.40" y1="368.40" x2="336.20" y2="368.40" stroke="#6a6a6a" stroke-width="0.7" />
<line x1="333.20" y1="346.60" x2="336.20" y2="346.60" stroke="#6a6a6a" stroke-width="0.7" />
<line x1="334.40" y1="324.80" x2="336.20" y2="324.80" stroke="#6a6a6a" stroke-width="0.7" />
<line x1="333.20" y1="303.00" x2="336.20" y2="303.00" stroke="#6a6a6a" stroke-width="0.7" />
<line x1="334.40" y1="281.20" x2="336.20" y2="281.20" stroke="#6a6a6a" stroke-width="0.7" />
<line x1="333.20" y1="259.40" x2="336.20" y2="259.40" stroke="#6a6a6a" stroke-width="0.7" />
<line x1="334.40" y1="237.60" x2="336.20" y2="237.60" stroke="#6a6a6a" stroke-width="0.7" />
<text x="327.70" y="263.05" font-size="10.2" text-anchor="end" fill="#1a1a1a" >4</text>
<text x="327.70" y="306.65" font-size="10.2" text-anchor="end" fill="#1a1a1a" >2</text>
<text x="327.70" y="350.25" font-size="10.2" text-anchor="end" fill="#1a1a1a" >0</text>
<text x="327.70" y="393.85" font-size="10.2" text-anchor="end" fill="#1a1a1a" >−2</text>
<text x="336.20" y="416.00" font-size="10.2" text-anchor="middle" fill="#1a1a1a" >0</text>
<text x="375.25" y="416.00" font-size="10.2" text-anchor="middle" fill="#1a1a1a" >0.5</text>
<text x="414.30" y="416.00" font-size="10.2" text-anchor="middle" fill="#1a1a1a" >1.0</text>
<text x="427.30" y="416.00" font-size="10.2" text-anchor="middle" fill="#1a1a1a" >0</text>
<text x="466.55" y="416.00" font-size="10.2" text-anchor="middle" fill="#1a1a1a" >0.5</text>
<text x="505.80" y="416.00" font-size="10.2" text-anchor="middle" fill="#1a1a1a" >1.0</text>
<text x="418.10" y="432.60" font-size="10.2" text-anchor="middle" fill="#1a1a1a" textLength="87.2" lengthAdjust="spacingAndGlyphs" >Atomic contribution</text>
<text x="0" y="0" font-size="10.2" text-anchor="middle" fill="#1a1a1a" textLength="52.8" lengthAdjust="spacingAndGlyphs" transform="translate(310.40,315.40) rotate(-90)">Energy (eV)</text>
<line x1="372.40" y1="271.00" x2="372.40" y2="348.00" stroke="#e82038" stroke-width="0.8" />
<path d="M372.4,268.3 l-2.2,4.5 l4.4,0 Z M372.4,351 l-2.2,-4.5 l4.4,0 Z" fill="#e82038"/>
<text x="375.60" y="315.40" font-size="9" text-anchor="start" fill="#e82038" textLength="30.8" lengthAdjust="spacingAndGlyphs" >3.91 eV</text>
<line x1="438.50" y1="271.00" x2="438.50" y2="330.00" stroke="#e82038" stroke-width="0.8" />
<path d="M438.5,268.3 l-2.2,4.5 l4.4,0 Z M438.5,333 l-2.2,-4.5 l4.4,0 Z" fill="#e82038"/>
<text x="441.40" y="304.50" font-size="9" text-anchor="start" fill="#e82038" textLength="30.8" lengthAdjust="spacingAndGlyphs" >3.24 eV</text>
<rect x="481.30" y="273.20" width="6.60" height="4.40" fill="#ffff00" stroke="#808080" stroke-width="0.4" />
<text x="491.80" y="278.80" font-size="10" text-anchor="start" fill="#222" >Sb</text>
<rect x="481.30" y="285.55" width="6.60" height="4.40" fill="#00007f" stroke="#808080" stroke-width="0.4" />
<text x="491.80" y="291.15" font-size="10" text-anchor="start" fill="#222" >Sc</text>
<rect x="481.30" y="297.90" width="6.60" height="4.40" fill="#f07070" stroke="#808080" stroke-width="0.4" />
<text x="491.80" y="303.50" font-size="10" text-anchor="start" fill="#222" >Na</text>
<rect x="481.30" y="310.25" width="6.60" height="4.40" fill="#dedede" stroke="#808080" stroke-width="0.4" />
<text x="491.80" y="315.85" font-size="10" text-anchor="start" fill="#222" >Cs</text>
<rect x="481.30" y="322.60" width="6.60" height="4.40" fill="#7a7a7a" stroke="#808080" stroke-width="0.4" />
<text x="491.80" y="328.20" font-size="10" text-anchor="start" fill="#222" >Cl</text>
<text x="534.20" y="236.20" font-size="14.7" text-anchor="start" fill="#000" font-weight="bold" >g</text>
<path d="M549.1,381.5 Q614.00,418.70 679.7,381.9 Z" fill="url(#gGr)"/>
<path d="M549.1,381.5 Q614.00,418.70 679.7,381.9" fill="none" stroke="#3a3a3a" stroke-width="1"/>
<path d="M549.2,274.9 Q568.55,297.50 587.7,274.9 Z" fill="url(#gCy)"/>
<path d="M549.2,274.9 Q568.55,297.50 587.7,274.9" fill="none" stroke="#333" stroke-width="0.95"/>
<path d="M589.6,251.8 Q614.50,285.05 639,252.1 Z" fill="url(#gBlu2)"/>
<path d="M590.3,241.3 Q614.40,274.25 638.5,242.6 Z" fill="url(#gMag)"/>
<path d="M589.6,251.8 Q614.50,285.05 639,252.1" fill="none" stroke="#333" stroke-width="0.95"/>
<path d="M590.3,241.3 Q614.40,274.25 638.5,242.6" fill="none" stroke="#333" stroke-width="0.95"/>
<path d="M640,284.6 Q659.95,307.65 679.7,284.9 Z" fill="url(#gYe2)"/>
<path d="M640,284.6 Q659.95,307.65 679.7,284.9" fill="none" stroke="#333" stroke-width="0.95"/>
<circle cx="560.6" cy="279.2" r="2.75" fill="#000"/>
<circle cx="568.7" cy="282" r="2.75" fill="#000"/>
<circle cx="576.7" cy="279.2" r="2.75" fill="#000"/>
<circle cx="659.9" cy="292.4" r="2.7" fill="#000"/>
<text x="537.30" y="269.70" font-size="8.8" text-anchor="start" fill="#3a30ff" >STE<tspan font-size="6" dy="2.2">1</tspan></text>
<text x="664.80" y="277.60" font-size="8.8" text-anchor="start" fill="#f5a028" >STE<tspan font-size="6" dy="2.2">2</tspan></text>
<text x="578.60" y="255.90" font-size="8.8" text-anchor="start" fill="#222" ><tspan font-size="6" dy="-3.4">3</tspan><tspan dy="3.4">P</tspan><tspan font-size="6" dy="2.4">1</tspan></text>
<text x="638.10" y="245.70" font-size="8.6" text-anchor="start" fill="#222" ><tspan font-size="6" dy="-3.4">3</tspan><tspan dy="3.4">P</tspan><tspan font-size="6" dy="2.4">2</tspan></text>
<text x="546.00" y="398.00" font-size="9.2" text-anchor="start" fill="#222" ><tspan font-size="6" dy="-3.8">1</tspan><tspan dy="3.8">S</tspan><tspan font-size="6" dy="2">0</tspan></text>
<text x="597.00" y="415.30" font-size="8.9" text-anchor="start" fill="#222" textLength="34" lengthAdjust="spacingAndGlyphs" >[SbCl<tspan font-size="6" dy="2">6</tspan><tspan dy="-2">]</tspan><tspan font-size="6" dy="-3.6">3−</tspan></text>
<path d="M578.5,244 C572,246 568.2,250 568.2,256 L568.2,259.4" fill="none" stroke="#c8c8c8" stroke-width="0.5" stroke-dasharray="0.8 0.6"/>
<path d="M576.8,252.2 C572,254 568.9,257 568.9,261 L568.8,269.5" fill="none" stroke="#3a30ff" stroke-width="0.95" stroke-dasharray="1 1"/>
<path d="M565.2,269.2 L572.2,269.2 L568.7,275.4 Z" fill="#3a30ff"/>
<path d="M646,254.2 C652,254.6 657.5,257 659.6,261.6" fill="none" stroke="#c8c8c8" stroke-width="0.5" stroke-dasharray="0.8 0.6"/>
<path d="M651.1,246.8 C655.5,249 659.6,253 659.6,259.3 L659.8,282.5" fill="none" stroke="#f5a028" stroke-width="0.9" stroke-dasharray="1 1"/>
<path d="M658.1,282.3 L661.7,282.3 L659.9,285.6 Z" fill="#f5a028"/>
<line x1="603.40" y1="270.50" x2="603.40" y2="311.00" stroke="#3434ff" stroke-width="0.9" />
<line x1="603.40" y1="345.60" x2="603.40" y2="398.80" stroke="#3434ff" stroke-width="0.9" />
<path d="M603.4,266.7 l-2.3,5 l4.6,0 Z" fill="#3434ff"/>
<text x="0" y="0" font-size="9" text-anchor="middle" fill="#3434ff" textLength="30.1" lengthAdjust="spacingAndGlyphs" transform="translate(606.60,327.90) rotate(-90)">335 nm</text>
<line x1="624.10" y1="260.50" x2="624.10" y2="310.00" stroke="#f5a028" stroke-width="0.9" />
<line x1="624.10" y1="346.50" x2="624.10" y2="399.60" stroke="#f5a028" stroke-width="0.9" />
<path d="M624.1,256.7 l-2.3,5 l4.6,0 Z" fill="#f5a028"/>
<text x="0" y="0" font-size="9" text-anchor="middle" fill="#f5a028" textLength="31" lengthAdjust="spacingAndGlyphs" transform="translate(627.40,328.30) rotate(-90)">302 nm</text>
<path d="M566.40,289.60 L566.42,289.85 L566.49,290.10 L566.61,290.35 L566.77,290.60 L566.97,290.85 L567.21,291.10 L567.48,291.35 L567.77,291.60 L568.09,291.85 L568.42,292.10 L568.76,292.35 L569.11,292.60 L569.45,292.85 L569.78,293.10 L570.09,293.35 L570.38,293.60 L570.64,293.85 L570.87,294.10 L571.07,294.35 L571.22,294.60 L571.32,294.85 L571.38,295.10 L571.40,295.35 L571.37,295.60 L571.29,295.85 L571.16,296.10 L570.99,296.35 L570.79,296.60 L570.54,296.85 L570.27,297.10 L569.97,297.35 L569.65,297.60 L569.31,297.85 L568.97,298.10 L568.62,298.35 L568.29,298.60 L567.96,298.85 L567.65,299.10 L567.36,299.35 L567.11,299.60 L566.89,299.85 L566.70,300.10 L566.56,300.35 L566.46,300.60 L566.41,300.85 L566.40,301.10 L566.45,301.35 L566.54,301.60 L566.67,301.85 L566.85,302.10 L567.06,302.35 L567.31,302.60 L567.59,302.85 L567.90,303.10 L568.22,303.35 L568.56,303.60 L568.90,303.85 L569.24,304.10 L569.58,304.35 L569.90,304.60 L570.21,304.85 L570.49,305.10 L570.74,305.35 L570.95,305.60 L571.13,305.85 L571.26,306.10 L571.35,306.35 L571.40,306.60 L571.39,306.85 L571.34,307.10 L571.24,307.35 L571.10,307.60 L570.91,307.85 L570.69,308.10 L570.44,308.35 L570.15,308.60 L569.84,308.85 L569.51,309.10 L569.18,309.35 L568.83,309.60 L568.49,309.85 L568.15,310.10 L567.83,310.35 L567.53,310.60 L567.26,310.85 L567.01,311.10 L566.81,311.35 L566.64,311.60 L566.51,311.85 L566.43,312.10 L566.40,312.35 L566.42,312.60 L566.48,312.85 L566.58,313.10 L566.73,313.35 L566.93,313.60 L567.16,313.85 L567.42,314.10 L567.71,314.35 L568.02,314.60 L568.35,314.85 L568.69,315.10 L569.04,315.35 L569.38,315.60 L569.71,315.85 L570.03,316.10 L570.32,316.35 L570.59,316.60 L570.83,316.85 L571.03,317.10 L571.19,317.35 L571.31,317.60 L571.38,317.85 L571.40,318.10 L571.38,318.35 L571.31,318.60 L571.19,318.85 L571.03,319.10 L570.83,319.35 L570.59,319.60 L570.32,319.85 L570.03,320.10 L569.71,320.35 L569.38,320.60" fill="none" stroke="#3a30ff" stroke-width="1.15"/>
<path d="M566.40,355.50 L566.42,355.75 L566.49,356.00 L566.61,356.25 L566.77,356.50 L566.97,356.75 L567.21,357.00 L567.48,357.25 L567.77,357.50 L568.09,357.75 L568.42,358.00 L568.76,358.25 L569.11,358.50 L569.45,358.75 L569.78,359.00 L570.09,359.25 L570.38,359.50 L570.64,359.75 L570.87,360.00 L571.07,360.25 L571.22,360.50 L571.32,360.75 L571.38,361.00 L571.40,361.25 L571.37,361.50 L571.29,361.75 L571.16,362.00 L570.99,362.25 L570.79,362.50 L570.54,362.75 L570.27,363.00 L569.97,363.25 L569.65,363.50 L569.31,363.75 L568.97,364.00 L568.62,364.25 L568.29,364.50 L567.96,364.75 L567.65,365.00 L567.36,365.25 L567.11,365.50 L566.89,365.75 L566.70,366.00 L566.56,366.25 L566.46,366.50 L566.41,366.75 L566.40,367.00 L566.45,367.25 L566.54,367.50 L566.67,367.75 L566.85,368.00 L567.06,368.25 L567.31,368.50 L567.59,368.75 L567.90,369.00 L568.22,369.25 L568.56,369.50 L568.90,369.75 L569.24,370.00 L569.58,370.25 L569.90,370.50 L570.21,370.75 L570.49,371.00 L570.74,371.25 L570.95,371.50 L571.13,371.75 L571.26,372.00 L571.35,372.25 L571.40,372.50 L571.39,372.75 L571.34,373.00 L571.24,373.25 L571.10,373.50 L570.91,373.75 L570.69,374.00 L570.44,374.25 L570.15,374.50 L569.84,374.75 L569.51,375.00 L569.18,375.25 L568.83,375.50 L568.49,375.75 L568.15,376.00 L567.83,376.25 L567.53,376.50 L567.26,376.75 L567.01,377.00 L566.81,377.25 L566.64,377.50" fill="none" stroke="#3a30ff" stroke-width="1.15"/>
<path d="M568.7,382 l-2.6,-5.4 l5.2,0 Z" fill="#3a30ff"/>
<text x="0" y="0" font-size="9" text-anchor="middle" fill="#3434ff" textLength="30.1" lengthAdjust="spacingAndGlyphs" transform="translate(572.40,337.90) rotate(-90)">450 nm</text>
<path d="M657.30,299.10 L657.32,299.35 L657.40,299.60 L657.52,299.86 L657.69,300.11 L657.89,300.36 L658.14,300.61 L658.42,300.86 L658.72,301.11 L659.04,301.37 L659.38,301.62 L659.73,301.87 L660.07,302.12 L660.41,302.37 L660.73,302.62 L661.03,302.88 L661.30,303.13 L661.54,303.38 L661.74,303.63 L661.90,303.88 L662.02,304.13 L662.08,304.39 L662.10,304.64 L662.07,304.89 L661.99,305.14 L661.86,305.39 L661.69,305.64 L661.47,305.90 L661.22,306.15 L660.94,306.40 L660.63,306.65 L660.31,306.90 L659.97,307.16 L659.62,307.41 L659.28,307.66 L658.94,307.91 L658.63,308.16 L658.33,308.41 L658.06,308.67 L657.83,308.92 L657.63,309.17 L657.48,309.42 L657.37,309.67 L657.31,309.92 L657.30,310.18 L657.34,310.43 L657.43,310.68 L657.57,310.93 L657.74,311.18 L657.96,311.43 L658.22,311.69 L658.51,311.94 L658.82,312.19 L659.14,312.44 L659.49,312.69 L659.83,312.94 L660.17,313.20 L660.50,313.45 L660.82,313.70 L661.11,313.95 L661.38,314.20 L661.60,314.46 L661.79,314.71 L661.94,314.96 L662.04,315.21 L662.09,315.46 L662.09,315.71 L662.05,315.97 L661.95,316.22 L661.81,316.47 L661.62,316.72 L661.40,316.97 L661.14,317.22 L660.85,317.48 L660.54,317.73 L660.20,317.98 L659.86,318.23 L659.52,318.48 L659.18,318.73 L658.85,318.99 L658.53,319.24 L658.25,319.49 L657.99,319.74 L657.76,319.99 L657.58,320.24 L657.44,320.50 L657.35,320.75 L657.30,321.00" fill="none" stroke="#f5a028" stroke-width="0.85"/>
<path d="M657.30,357.00 L657.32,357.25 L657.40,357.50 L657.52,357.75 L657.68,358.00 L657.89,358.25 L658.13,358.50 L658.40,358.75 L658.70,359.00 L659.02,359.25 L659.36,359.50 L659.70,359.75 L660.04,360.00 L660.38,360.25 L660.70,360.50 L661.00,360.75 L661.27,361.00 L661.51,361.25 L661.72,361.50 L661.88,361.75 L662.00,362.00 L662.08,362.25 L662.10,362.50 L662.08,362.75 L662.00,363.00 L661.88,363.25 L661.72,363.50 L661.51,363.75 L661.27,364.00 L661.00,364.25 L660.70,364.50 L660.38,364.75 L660.04,365.00 L659.70,365.25 L659.36,365.50 L659.02,365.75 L658.70,366.00 L658.40,366.25 L658.13,366.50 L657.89,366.75 L657.68,367.00 L657.52,367.25 L657.40,367.50 L657.32,367.75 L657.30,368.00 L657.32,368.25 L657.40,368.50 L657.52,368.75 L657.68,369.00 L657.89,369.25 L658.13,369.50 L658.40,369.75 L658.70,370.00 L659.02,370.25 L659.36,370.50 L659.70,370.75 L660.04,371.00 L660.38,371.25 L660.70,371.50 L661.00,371.75 L661.27,372.00 L661.51,372.25 L661.72,372.50 L661.88,372.75 L662.00,373.00 L662.08,373.25 L662.10,373.50 L662.08,373.75 L662.00,374.00 L661.88,374.25 L661.72,374.50 L661.51,374.75 L661.27,375.00 L661.00,375.25 L660.70,375.50 L660.38,375.75 L660.04,376.00 L659.70,376.25 L659.36,376.50 L659.02,376.75 L658.70,377.00" fill="none" stroke="#f5a028" stroke-width="0.85"/>
<path d="M659.7,380.3 l-2,-4 l4,0 Z" fill="#f5a028"/>
<text x="0" y="0" font-size="9" text-anchor="middle" fill="#f5a028" textLength="31" lengthAdjust="spacingAndGlyphs" transform="translate(663.00,339.20) rotate(-90)">570 nm</text>
<circle cx="568.6" cy="386.1" r="2.9" fill="#fff" stroke="#777" stroke-width="0.7"/>
<circle cx="659.7" cy="386.1" r="2.9" fill="#fff" stroke="#777" stroke-width="0.7"/>
<circle cx="589.7" cy="433.4" r="3.8" fill="#000"/>
<text x="597.70" y="437.05" font-size="10" text-anchor="start" fill="#222" textLength="37.2" lengthAdjust="spacingAndGlyphs" >Electron</text>
<circle cx="650.5" cy="433.4" r="3.3" fill="#fff" stroke="#999" stroke-width="0.7" stroke-dasharray="0.9 0.7"/>
<text x="658.30" y="437.05" font-size="10" text-anchor="start" fill="#222" textLength="21" lengthAdjust="spacingAndGlyphs" >Hole</text>
</svg></body></html>
